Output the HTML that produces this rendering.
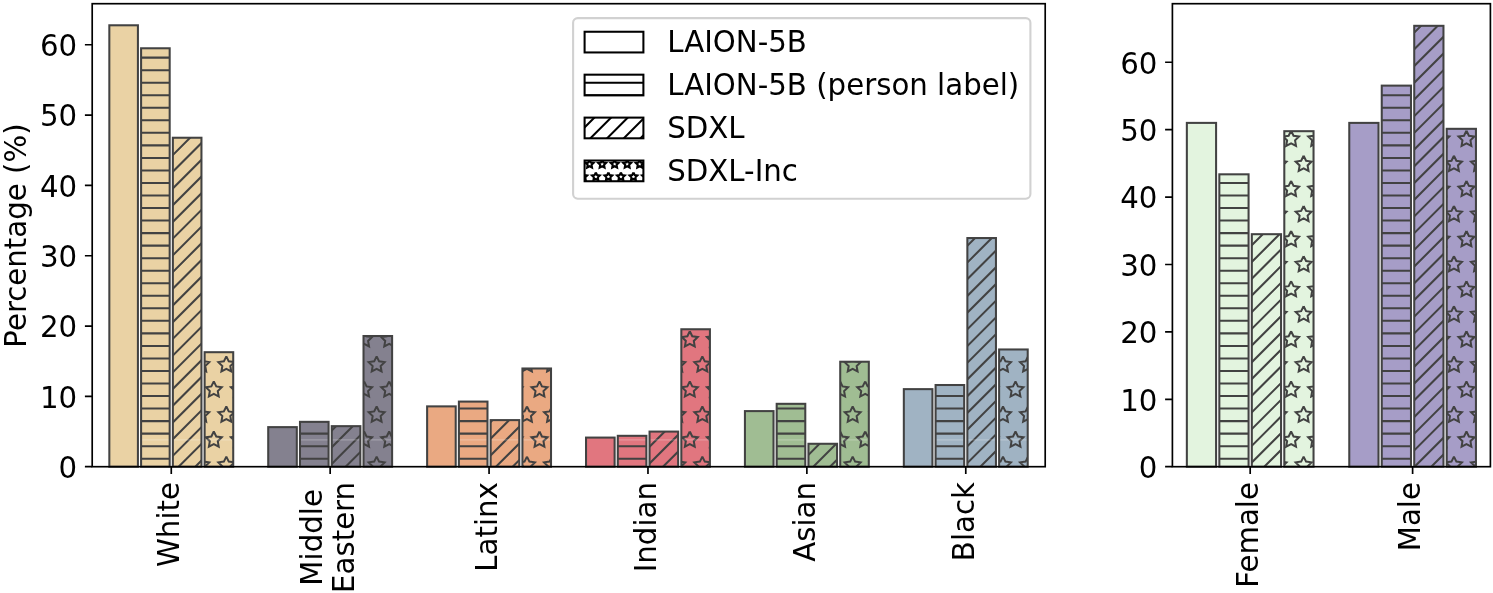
<!DOCTYPE html>
<html lang="en"><head><meta charset="utf-8"><title>Chart</title>
<style>html,body{margin:0;padding:0;background:#fff}svg{display:block}</style></head>
<body>
<svg width="1493" height="593" viewBox="0 0 1493 593" font-family="'DejaVu Sans', 'Liberation Sans', sans-serif" font-size="29.24px" fill="#000">
<rect width="1493" height="593" fill="#fff"/>
<defs><clipPath id="c1"><rect x="141.09" y="48.28" width="28.59" height="418.42"/></clipPath><clipPath id="c2"><rect x="172.86" y="137.74" width="28.59" height="328.96"/></clipPath><clipPath id="c3"><rect x="204.63" y="352.20" width="28.59" height="114.50"/></clipPath><clipPath id="c4"><rect x="299.99" y="421.85" width="28.59" height="44.85"/></clipPath><clipPath id="c5"><rect x="331.76" y="426.15" width="28.59" height="40.55"/></clipPath><clipPath id="c6"><rect x="363.52" y="336.02" width="28.59" height="130.68"/></clipPath><clipPath id="c7"><rect x="458.89" y="401.59" width="28.59" height="65.11"/></clipPath><clipPath id="c8"><rect x="490.66" y="420.11" width="28.59" height="46.59"/></clipPath><clipPath id="c9"><rect x="522.43" y="368.49" width="28.59" height="98.21"/></clipPath><clipPath id="c10"><rect x="617.79" y="435.82" width="28.59" height="30.88"/></clipPath><clipPath id="c11"><rect x="649.56" y="431.59" width="28.59" height="35.11"/></clipPath><clipPath id="c12"><rect x="681.33" y="329.26" width="28.59" height="137.44"/></clipPath><clipPath id="c13"><rect x="776.69" y="403.82" width="28.59" height="62.88"/></clipPath><clipPath id="c14"><rect x="808.46" y="443.78" width="28.59" height="22.92"/></clipPath><clipPath id="c15"><rect x="840.23" y="361.73" width="28.59" height="104.97"/></clipPath><clipPath id="c16"><rect x="935.59" y="385.02" width="28.59" height="81.68"/></clipPath><clipPath id="c17"><rect x="967.36" y="238.05" width="28.59" height="228.65"/></clipPath><clipPath id="c18"><rect x="999.12" y="349.47" width="28.59" height="117.23"/></clipPath><clipPath id="c19"><rect x="1219.34" y="174.32" width="29.23" height="292.38"/></clipPath><clipPath id="c20"><rect x="1251.82" y="234.19" width="29.23" height="232.51"/></clipPath><clipPath id="c21"><rect x="1284.30" y="131.19" width="29.23" height="335.51"/></clipPath><clipPath id="c22"><rect x="1381.75" y="85.62" width="29.23" height="381.08"/></clipPath><clipPath id="c23"><rect x="1414.23" y="25.82" width="29.23" height="440.88"/></clipPath><clipPath id="c24"><rect x="1446.71" y="128.82" width="29.23" height="337.88"/></clipPath><clipPath id="c25"><rect x="584.60" y="74.68" width="58.80" height="20.70"/></clipPath><clipPath id="c26"><rect x="584.60" y="117.61" width="58.80" height="20.70"/></clipPath><clipPath id="c27"><rect x="584.60" y="160.54" width="58.80" height="20.70"/></clipPath></defs>
<rect x="109.33" y="25.29" width="28.59" height="441.41" fill="#EAD2A4"/>
<rect x="109.33" y="25.29" width="28.59" height="441.41" fill="none" stroke="#424242" stroke-width="2.05"/>
<rect x="141.09" y="48.28" width="28.59" height="418.42" fill="#EAD2A4"/>
<g clip-path="url(#c1)" stroke="#424242" stroke-width="2.05" fill="none" stroke-miterlimit="10"><path d="M139.09,57.63H171.68M139.09,70.17H171.68M139.09,82.70H171.68M139.09,95.23H171.68M139.09,107.77H171.68M139.09,120.30H171.68M139.09,132.83H171.68M139.09,145.37H171.68M139.09,157.90H171.68M139.09,170.43H171.68M139.09,182.97H171.68M139.09,195.50H171.68M139.09,208.03H171.68M139.09,220.57H171.68M139.09,233.10H171.68M139.09,245.63H171.68M139.09,258.17H171.68M139.09,270.70H171.68M139.09,283.23H171.68M139.09,295.77H171.68M139.09,308.30H171.68M139.09,320.83H171.68M139.09,333.37H171.68M139.09,345.90H171.68M139.09,358.43H171.68M139.09,370.97H171.68M139.09,383.50H171.68M139.09,396.03H171.68M139.09,408.57H171.68M139.09,421.10H171.68M139.09,433.63H171.68M139.09,446.17H171.68M139.09,458.70H171.68"/></g>
<rect x="141.09" y="439.30" width="28.59" height="1.2" fill="#fff" opacity="0.25"/>
<rect x="141.09" y="48.28" width="28.59" height="418.42" fill="none" stroke="#424242" stroke-width="2.05"/>
<rect x="172.86" y="137.74" width="28.59" height="328.96" fill="#EAD2A4"/>
<g clip-path="url(#c2)" stroke="#424242" stroke-width="2.05" fill="none" stroke-miterlimit="10"><path d="M169.86,141.28L204.45,106.67M169.86,157.99L204.45,123.38M169.86,174.70L204.45,140.09M169.86,191.41L204.45,156.81M169.86,208.12L204.45,173.52M169.86,224.84L204.45,190.23M169.86,241.55L204.45,206.94M169.86,258.26L204.45,223.65M169.86,274.97L204.45,240.36M169.86,291.68L204.45,257.07M169.86,308.39L204.45,273.78M169.86,325.10L204.45,290.49M169.86,341.81L204.45,307.21M169.86,358.52L204.45,323.92M169.86,375.24L204.45,340.63M169.86,391.95L204.45,357.34M169.86,408.66L204.45,374.05M169.86,425.37L204.45,390.76M169.86,442.08L204.45,407.47M169.86,458.79L204.45,424.18M169.86,475.50L204.45,440.89M169.86,492.21L204.45,457.61"/></g>
<rect x="172.86" y="439.30" width="28.59" height="1.2" fill="#fff" opacity="0.25"/>
<rect x="172.86" y="137.74" width="28.59" height="328.96" fill="none" stroke="#424242" stroke-width="2.05"/>
<rect x="204.63" y="352.20" width="28.59" height="114.50" fill="#EAD2A4"/>
<g clip-path="url(#c3)" stroke="#424242" stroke-width="2.05" fill="none" stroke-miterlimit="10"><path fill="#EAD2A4" stroke-width="2.0" stroke-linejoin="miter" stroke-miterlimit="10" d="M176.22,306.21 L173.76,311.19 L168.27,311.98 L172.25,315.86 L171.31,321.33 L176.22,318.74 L181.13,321.33 L180.19,315.86 L184.17,311.98 L178.68,311.19 L176.22,306.21M201.27,306.21 L198.82,311.19 L193.33,311.98 L197.30,315.86 L196.36,321.33 L201.27,318.74 L206.18,321.33 L205.25,315.86 L209.22,311.98 L203.73,311.19 L201.27,306.21M226.33,306.21 L223.87,311.19 L218.38,311.98 L222.35,315.86 L221.42,321.33 L226.33,318.74 L231.24,321.33 L230.30,315.86 L234.27,311.98 L228.78,311.19 L226.33,306.21M251.38,306.21 L248.92,311.19 L243.43,311.98 L247.41,315.86 L246.47,321.33 L251.38,318.74 L256.29,321.33 L255.35,315.86 L259.33,311.98 L253.84,311.19 L251.38,306.21M163.69,331.28 L161.24,336.25 L155.75,337.05 L159.72,340.92 L158.78,346.39 L163.69,343.81 L168.60,346.39 L167.67,340.92 L171.64,337.05 L166.15,336.25 L163.69,331.28M188.75,331.28 L186.29,336.25 L180.80,337.05 L184.77,340.92 L183.84,346.39 L188.75,343.81 L193.66,346.39 L192.72,340.92 L196.69,337.05 L191.20,336.25 L188.75,331.28M213.80,331.28 L211.34,336.25 L205.85,337.05 L209.83,340.92 L208.89,346.39 L213.80,343.81 L218.71,346.39 L217.77,340.92 L221.75,337.05 L216.26,336.25 L213.80,331.28M238.85,331.28 L236.40,336.25 L230.91,337.05 L234.88,340.92 L233.94,346.39 L238.85,343.81 L243.76,346.39 L242.83,340.92 L246.80,337.05 L241.31,336.25 L238.85,331.28M176.22,356.34 L173.76,361.32 L168.27,362.12 L172.25,365.99 L171.31,371.46 L176.22,368.88 L181.13,371.46 L180.19,365.99 L184.17,362.12 L178.68,361.32 L176.22,356.34M201.27,356.34 L198.82,361.32 L193.33,362.12 L197.30,365.99 L196.36,371.46 L201.27,368.88 L206.18,371.46 L205.25,365.99 L209.22,362.12 L203.73,361.32 L201.27,356.34M226.33,356.34 L223.87,361.32 L218.38,362.12 L222.35,365.99 L221.42,371.46 L226.33,368.88 L231.24,371.46 L230.30,365.99 L234.27,362.12 L228.78,361.32 L226.33,356.34M251.38,356.34 L248.92,361.32 L243.43,362.12 L247.41,365.99 L246.47,371.46 L251.38,368.88 L256.29,371.46 L255.35,365.99 L259.33,362.12 L253.84,361.32 L251.38,356.34M163.69,381.41 L161.24,386.39 L155.75,387.18 L159.72,391.06 L158.78,396.53 L163.69,393.94 L168.60,396.53 L167.67,391.06 L171.64,387.18 L166.15,386.39 L163.69,381.41M188.75,381.41 L186.29,386.39 L180.80,387.18 L184.77,391.06 L183.84,396.53 L188.75,393.94 L193.66,396.53 L192.72,391.06 L196.69,387.18 L191.20,386.39 L188.75,381.41M213.80,381.41 L211.34,386.39 L205.85,387.18 L209.83,391.06 L208.89,396.53 L213.80,393.94 L218.71,396.53 L217.77,391.06 L221.75,387.18 L216.26,386.39 L213.80,381.41M238.85,381.41 L236.40,386.39 L230.91,387.18 L234.88,391.06 L233.94,396.53 L238.85,393.94 L243.76,396.53 L242.83,391.06 L246.80,387.18 L241.31,386.39 L238.85,381.41M176.22,406.48 L173.76,411.45 L168.27,412.25 L172.25,416.12 L171.31,421.59 L176.22,419.01 L181.13,421.59 L180.19,416.12 L184.17,412.25 L178.68,411.45 L176.22,406.48M201.27,406.48 L198.82,411.45 L193.33,412.25 L197.30,416.12 L196.36,421.59 L201.27,419.01 L206.18,421.59 L205.25,416.12 L209.22,412.25 L203.73,411.45 L201.27,406.48M226.33,406.48 L223.87,411.45 L218.38,412.25 L222.35,416.12 L221.42,421.59 L226.33,419.01 L231.24,421.59 L230.30,416.12 L234.27,412.25 L228.78,411.45 L226.33,406.48M251.38,406.48 L248.92,411.45 L243.43,412.25 L247.41,416.12 L246.47,421.59 L251.38,419.01 L256.29,421.59 L255.35,416.12 L259.33,412.25 L253.84,411.45 L251.38,406.48M163.69,431.54 L161.24,436.52 L155.75,437.32 L159.72,441.19 L158.78,446.66 L163.69,444.08 L168.60,446.66 L167.67,441.19 L171.64,437.32 L166.15,436.52 L163.69,431.54M188.75,431.54 L186.29,436.52 L180.80,437.32 L184.77,441.19 L183.84,446.66 L188.75,444.08 L193.66,446.66 L192.72,441.19 L196.69,437.32 L191.20,436.52 L188.75,431.54M213.80,431.54 L211.34,436.52 L205.85,437.32 L209.83,441.19 L208.89,446.66 L213.80,444.08 L218.71,446.66 L217.77,441.19 L221.75,437.32 L216.26,436.52 L213.80,431.54M238.85,431.54 L236.40,436.52 L230.91,437.32 L234.88,441.19 L233.94,446.66 L238.85,444.08 L243.76,446.66 L242.83,441.19 L246.80,437.32 L241.31,436.52 L238.85,431.54M176.22,456.61 L173.76,461.59 L168.27,462.38 L172.25,466.26 L171.31,471.73 L176.22,469.14 L181.13,471.73 L180.19,466.26 L184.17,462.38 L178.68,461.59 L176.22,456.61M201.27,456.61 L198.82,461.59 L193.33,462.38 L197.30,466.26 L196.36,471.73 L201.27,469.14 L206.18,471.73 L205.25,466.26 L209.22,462.38 L203.73,461.59 L201.27,456.61M226.33,456.61 L223.87,461.59 L218.38,462.38 L222.35,466.26 L221.42,471.73 L226.33,469.14 L231.24,471.73 L230.30,466.26 L234.27,462.38 L228.78,461.59 L226.33,456.61M251.38,456.61 L248.92,461.59 L243.43,462.38 L247.41,466.26 L246.47,471.73 L251.38,469.14 L256.29,471.73 L255.35,466.26 L259.33,462.38 L253.84,461.59 L251.38,456.61M163.69,481.68 L161.24,486.65 L155.75,487.45 L159.72,491.32 L158.78,496.79 L163.69,494.21 L168.60,496.79 L167.67,491.32 L171.64,487.45 L166.15,486.65 L163.69,481.68M188.75,481.68 L186.29,486.65 L180.80,487.45 L184.77,491.32 L183.84,496.79 L188.75,494.21 L193.66,496.79 L192.72,491.32 L196.69,487.45 L191.20,486.65 L188.75,481.68M213.80,481.68 L211.34,486.65 L205.85,487.45 L209.83,491.32 L208.89,496.79 L213.80,494.21 L218.71,496.79 L217.77,491.32 L221.75,487.45 L216.26,486.65 L213.80,481.68M238.85,481.68 L236.40,486.65 L230.91,487.45 L234.88,491.32 L233.94,496.79 L238.85,494.21 L243.76,496.79 L242.83,491.32 L246.80,487.45 L241.31,486.65 L238.85,481.68"/></g>
<rect x="204.63" y="439.30" width="28.59" height="1.2" fill="#fff" opacity="0.25"/>
<rect x="204.63" y="352.20" width="28.59" height="114.50" fill="none" stroke="#424242" stroke-width="2.05"/>
<rect x="268.22" y="427.13" width="28.59" height="39.57" fill="#84818F"/>
<rect x="268.22" y="427.13" width="28.59" height="39.57" fill="none" stroke="#424242" stroke-width="2.05"/>
<rect x="299.99" y="421.85" width="28.59" height="44.85" fill="#84818F"/>
<g clip-path="url(#c4)" stroke="#424242" stroke-width="2.05" fill="none" stroke-miterlimit="10"><path d="M297.99,421.10H330.58M297.99,433.63H330.58M297.99,446.17H330.58M297.99,458.70H330.58"/></g>
<rect x="299.99" y="439.30" width="28.59" height="1.2" fill="#fff" opacity="0.25"/>
<rect x="299.99" y="421.85" width="28.59" height="44.85" fill="none" stroke="#424242" stroke-width="2.05"/>
<rect x="331.76" y="426.15" width="28.59" height="40.55" fill="#84818F"/>
<g clip-path="url(#c5)" stroke="#424242" stroke-width="2.05" fill="none" stroke-miterlimit="10"><path d="M328.76,433.50L363.35,398.89M328.76,450.21L363.35,415.60M328.76,466.92L363.35,432.31M328.76,483.63L363.35,449.02M328.76,500.34L363.35,465.73"/></g>
<rect x="331.76" y="439.30" width="28.59" height="1.2" fill="#fff" opacity="0.25"/>
<rect x="331.76" y="426.15" width="28.59" height="40.55" fill="none" stroke="#424242" stroke-width="2.05"/>
<rect x="363.52" y="336.02" width="28.59" height="130.68" fill="#84818F"/>
<g clip-path="url(#c6)" stroke="#424242" stroke-width="2.05" fill="none" stroke-miterlimit="10"><path fill="#84818F" stroke-width="2.0" stroke-linejoin="miter" stroke-miterlimit="10" d="M314.01,281.14 L311.56,286.12 L306.07,286.92 L310.04,290.79 L309.10,296.26 L314.01,293.68 L318.92,296.26 L317.99,290.79 L321.96,286.92 L316.47,286.12 L314.01,281.14M339.07,281.14 L336.61,286.12 L331.12,286.92 L335.09,290.79 L334.16,296.26 L339.07,293.68 L343.98,296.26 L343.04,290.79 L347.01,286.92 L341.52,286.12 L339.07,281.14M364.12,281.14 L361.66,286.12 L356.17,286.92 L360.15,290.79 L359.21,296.26 L364.12,293.68 L369.03,296.26 L368.09,290.79 L372.07,286.92 L366.58,286.12 L364.12,281.14M389.17,281.14 L386.72,286.12 L381.23,286.92 L385.20,290.79 L384.26,296.26 L389.17,293.68 L394.08,296.26 L393.15,290.79 L397.12,286.92 L391.63,286.12 L389.17,281.14M414.23,281.14 L411.77,286.12 L406.28,286.92 L410.25,290.79 L409.32,296.26 L414.23,293.68 L419.14,296.26 L418.20,290.79 L422.17,286.92 L416.68,286.12 L414.23,281.14M326.54,306.21 L324.08,311.19 L318.59,311.98 L322.57,315.86 L321.63,321.33 L326.54,318.74 L331.45,321.33 L330.51,315.86 L334.49,311.98 L329.00,311.19 L326.54,306.21M351.59,306.21 L349.14,311.19 L343.65,311.98 L347.62,315.86 L346.68,321.33 L351.59,318.74 L356.50,321.33 L355.57,315.86 L359.54,311.98 L354.05,311.19 L351.59,306.21M376.65,306.21 L374.19,311.19 L368.70,311.98 L372.67,315.86 L371.74,321.33 L376.65,318.74 L381.56,321.33 L380.62,315.86 L384.59,311.98 L379.10,311.19 L376.65,306.21M401.70,306.21 L399.24,311.19 L393.75,311.98 L397.73,315.86 L396.79,321.33 L401.70,318.74 L406.61,321.33 L405.67,315.86 L409.65,311.98 L404.16,311.19 L401.70,306.21M314.01,331.28 L311.56,336.25 L306.07,337.05 L310.04,340.92 L309.10,346.39 L314.01,343.81 L318.92,346.39 L317.99,340.92 L321.96,337.05 L316.47,336.25 L314.01,331.28M339.07,331.28 L336.61,336.25 L331.12,337.05 L335.09,340.92 L334.16,346.39 L339.07,343.81 L343.98,346.39 L343.04,340.92 L347.01,337.05 L341.52,336.25 L339.07,331.28M364.12,331.28 L361.66,336.25 L356.17,337.05 L360.15,340.92 L359.21,346.39 L364.12,343.81 L369.03,346.39 L368.09,340.92 L372.07,337.05 L366.58,336.25 L364.12,331.28M389.17,331.28 L386.72,336.25 L381.23,337.05 L385.20,340.92 L384.26,346.39 L389.17,343.81 L394.08,346.39 L393.15,340.92 L397.12,337.05 L391.63,336.25 L389.17,331.28M414.23,331.28 L411.77,336.25 L406.28,337.05 L410.25,340.92 L409.32,346.39 L414.23,343.81 L419.14,346.39 L418.20,340.92 L422.17,337.05 L416.68,336.25 L414.23,331.28M326.54,356.34 L324.08,361.32 L318.59,362.12 L322.57,365.99 L321.63,371.46 L326.54,368.88 L331.45,371.46 L330.51,365.99 L334.49,362.12 L329.00,361.32 L326.54,356.34M351.59,356.34 L349.14,361.32 L343.65,362.12 L347.62,365.99 L346.68,371.46 L351.59,368.88 L356.50,371.46 L355.57,365.99 L359.54,362.12 L354.05,361.32 L351.59,356.34M376.65,356.34 L374.19,361.32 L368.70,362.12 L372.67,365.99 L371.74,371.46 L376.65,368.88 L381.56,371.46 L380.62,365.99 L384.59,362.12 L379.10,361.32 L376.65,356.34M401.70,356.34 L399.24,361.32 L393.75,362.12 L397.73,365.99 L396.79,371.46 L401.70,368.88 L406.61,371.46 L405.67,365.99 L409.65,362.12 L404.16,361.32 L401.70,356.34M314.01,381.41 L311.56,386.39 L306.07,387.18 L310.04,391.06 L309.10,396.53 L314.01,393.94 L318.92,396.53 L317.99,391.06 L321.96,387.18 L316.47,386.39 L314.01,381.41M339.07,381.41 L336.61,386.39 L331.12,387.18 L335.09,391.06 L334.16,396.53 L339.07,393.94 L343.98,396.53 L343.04,391.06 L347.01,387.18 L341.52,386.39 L339.07,381.41M364.12,381.41 L361.66,386.39 L356.17,387.18 L360.15,391.06 L359.21,396.53 L364.12,393.94 L369.03,396.53 L368.09,391.06 L372.07,387.18 L366.58,386.39 L364.12,381.41M389.17,381.41 L386.72,386.39 L381.23,387.18 L385.20,391.06 L384.26,396.53 L389.17,393.94 L394.08,396.53 L393.15,391.06 L397.12,387.18 L391.63,386.39 L389.17,381.41M414.23,381.41 L411.77,386.39 L406.28,387.18 L410.25,391.06 L409.32,396.53 L414.23,393.94 L419.14,396.53 L418.20,391.06 L422.17,387.18 L416.68,386.39 L414.23,381.41M326.54,406.48 L324.08,411.45 L318.59,412.25 L322.57,416.12 L321.63,421.59 L326.54,419.01 L331.45,421.59 L330.51,416.12 L334.49,412.25 L329.00,411.45 L326.54,406.48M351.59,406.48 L349.14,411.45 L343.65,412.25 L347.62,416.12 L346.68,421.59 L351.59,419.01 L356.50,421.59 L355.57,416.12 L359.54,412.25 L354.05,411.45 L351.59,406.48M376.65,406.48 L374.19,411.45 L368.70,412.25 L372.67,416.12 L371.74,421.59 L376.65,419.01 L381.56,421.59 L380.62,416.12 L384.59,412.25 L379.10,411.45 L376.65,406.48M401.70,406.48 L399.24,411.45 L393.75,412.25 L397.73,416.12 L396.79,421.59 L401.70,419.01 L406.61,421.59 L405.67,416.12 L409.65,412.25 L404.16,411.45 L401.70,406.48M314.01,431.54 L311.56,436.52 L306.07,437.32 L310.04,441.19 L309.10,446.66 L314.01,444.08 L318.92,446.66 L317.99,441.19 L321.96,437.32 L316.47,436.52 L314.01,431.54M339.07,431.54 L336.61,436.52 L331.12,437.32 L335.09,441.19 L334.16,446.66 L339.07,444.08 L343.98,446.66 L343.04,441.19 L347.01,437.32 L341.52,436.52 L339.07,431.54M364.12,431.54 L361.66,436.52 L356.17,437.32 L360.15,441.19 L359.21,446.66 L364.12,444.08 L369.03,446.66 L368.09,441.19 L372.07,437.32 L366.58,436.52 L364.12,431.54M389.17,431.54 L386.72,436.52 L381.23,437.32 L385.20,441.19 L384.26,446.66 L389.17,444.08 L394.08,446.66 L393.15,441.19 L397.12,437.32 L391.63,436.52 L389.17,431.54M414.23,431.54 L411.77,436.52 L406.28,437.32 L410.25,441.19 L409.32,446.66 L414.23,444.08 L419.14,446.66 L418.20,441.19 L422.17,437.32 L416.68,436.52 L414.23,431.54M326.54,456.61 L324.08,461.59 L318.59,462.38 L322.57,466.26 L321.63,471.73 L326.54,469.14 L331.45,471.73 L330.51,466.26 L334.49,462.38 L329.00,461.59 L326.54,456.61M351.59,456.61 L349.14,461.59 L343.65,462.38 L347.62,466.26 L346.68,471.73 L351.59,469.14 L356.50,471.73 L355.57,466.26 L359.54,462.38 L354.05,461.59 L351.59,456.61M376.65,456.61 L374.19,461.59 L368.70,462.38 L372.67,466.26 L371.74,471.73 L376.65,469.14 L381.56,471.73 L380.62,466.26 L384.59,462.38 L379.10,461.59 L376.65,456.61M401.70,456.61 L399.24,461.59 L393.75,462.38 L397.73,466.26 L396.79,471.73 L401.70,469.14 L406.61,471.73 L405.67,466.26 L409.65,462.38 L404.16,461.59 L401.70,456.61M314.01,481.68 L311.56,486.65 L306.07,487.45 L310.04,491.32 L309.10,496.79 L314.01,494.21 L318.92,496.79 L317.99,491.32 L321.96,487.45 L316.47,486.65 L314.01,481.68M339.07,481.68 L336.61,486.65 L331.12,487.45 L335.09,491.32 L334.16,496.79 L339.07,494.21 L343.98,496.79 L343.04,491.32 L347.01,487.45 L341.52,486.65 L339.07,481.68M364.12,481.68 L361.66,486.65 L356.17,487.45 L360.15,491.32 L359.21,496.79 L364.12,494.21 L369.03,496.79 L368.09,491.32 L372.07,487.45 L366.58,486.65 L364.12,481.68M389.17,481.68 L386.72,486.65 L381.23,487.45 L385.20,491.32 L384.26,496.79 L389.17,494.21 L394.08,496.79 L393.15,491.32 L397.12,487.45 L391.63,486.65 L389.17,481.68M414.23,481.68 L411.77,486.65 L406.28,487.45 L410.25,491.32 L409.32,496.79 L414.23,494.21 L419.14,496.79 L418.20,491.32 L422.17,487.45 L416.68,486.65 L414.23,481.68"/></g>
<rect x="363.52" y="439.30" width="28.59" height="1.2" fill="#fff" opacity="0.25"/>
<rect x="363.52" y="336.02" width="28.59" height="130.68" fill="none" stroke="#424242" stroke-width="2.05"/>
<rect x="427.12" y="406.38" width="28.59" height="60.32" fill="#EAA982"/>
<rect x="427.12" y="406.38" width="28.59" height="60.32" fill="none" stroke="#424242" stroke-width="2.05"/>
<rect x="458.89" y="401.59" width="28.59" height="65.11" fill="#EAA982"/>
<g clip-path="url(#c7)" stroke="#424242" stroke-width="2.05" fill="none" stroke-miterlimit="10"><path d="M456.89,408.57H489.48M456.89,421.10H489.48M456.89,433.63H489.48M456.89,446.17H489.48M456.89,458.70H489.48"/></g>
<rect x="458.89" y="439.30" width="28.59" height="1.2" fill="#fff" opacity="0.25"/>
<rect x="458.89" y="401.59" width="28.59" height="65.11" fill="none" stroke="#424242" stroke-width="2.05"/>
<rect x="490.66" y="420.11" width="28.59" height="46.59" fill="#EAA982"/>
<g clip-path="url(#c8)" stroke="#424242" stroke-width="2.05" fill="none" stroke-miterlimit="10"><path d="M487.66,424.91L522.25,390.30M487.66,441.62L522.25,407.01M487.66,458.33L522.25,423.72M487.66,475.04L522.25,440.44M487.66,491.76L522.25,457.15"/></g>
<rect x="490.66" y="439.30" width="28.59" height="1.2" fill="#fff" opacity="0.25"/>
<rect x="490.66" y="420.11" width="28.59" height="46.59" fill="none" stroke="#424242" stroke-width="2.05"/>
<rect x="522.43" y="368.49" width="28.59" height="98.21" fill="#EAA982"/>
<g clip-path="url(#c9)" stroke="#424242" stroke-width="2.05" fill="none" stroke-miterlimit="10"><path fill="#EAA982" stroke-width="2.0" stroke-linejoin="miter" stroke-miterlimit="10" d="M489.39,331.28 L486.93,336.25 L481.44,337.05 L485.41,340.92 L484.48,346.39 L489.39,343.81 L494.30,346.39 L493.36,340.92 L497.33,337.05 L491.84,336.25 L489.39,331.28M514.44,331.28 L511.98,336.25 L506.49,337.05 L510.47,340.92 L509.53,346.39 L514.44,343.81 L519.35,346.39 L518.41,340.92 L522.39,337.05 L516.90,336.25 L514.44,331.28M539.49,331.28 L537.04,336.25 L531.55,337.05 L535.52,340.92 L534.58,346.39 L539.49,343.81 L544.40,346.39 L543.47,340.92 L547.44,337.05 L541.95,336.25 L539.49,331.28M564.55,331.28 L562.09,336.25 L556.60,337.05 L560.57,340.92 L559.64,346.39 L564.55,343.81 L569.46,346.39 L568.52,340.92 L572.49,337.05 L567.00,336.25 L564.55,331.28M476.86,356.34 L474.40,361.32 L468.91,362.12 L472.89,365.99 L471.95,371.46 L476.86,368.88 L481.77,371.46 L480.83,365.99 L484.81,362.12 L479.32,361.32 L476.86,356.34M501.91,356.34 L499.46,361.32 L493.97,362.12 L497.94,365.99 L497.00,371.46 L501.91,368.88 L506.82,371.46 L505.89,365.99 L509.86,362.12 L504.37,361.32 L501.91,356.34M526.97,356.34 L524.51,361.32 L519.02,362.12 L522.99,365.99 L522.06,371.46 L526.97,368.88 L531.88,371.46 L530.94,365.99 L534.91,362.12 L529.42,361.32 L526.97,356.34M552.02,356.34 L549.56,361.32 L544.07,362.12 L548.05,365.99 L547.11,371.46 L552.02,368.88 L556.93,371.46 L555.99,365.99 L559.97,362.12 L554.48,361.32 L552.02,356.34M489.39,381.41 L486.93,386.39 L481.44,387.18 L485.41,391.06 L484.48,396.53 L489.39,393.94 L494.30,396.53 L493.36,391.06 L497.33,387.18 L491.84,386.39 L489.39,381.41M514.44,381.41 L511.98,386.39 L506.49,387.18 L510.47,391.06 L509.53,396.53 L514.44,393.94 L519.35,396.53 L518.41,391.06 L522.39,387.18 L516.90,386.39 L514.44,381.41M539.49,381.41 L537.04,386.39 L531.55,387.18 L535.52,391.06 L534.58,396.53 L539.49,393.94 L544.40,396.53 L543.47,391.06 L547.44,387.18 L541.95,386.39 L539.49,381.41M564.55,381.41 L562.09,386.39 L556.60,387.18 L560.57,391.06 L559.64,396.53 L564.55,393.94 L569.46,396.53 L568.52,391.06 L572.49,387.18 L567.00,386.39 L564.55,381.41M476.86,406.48 L474.40,411.45 L468.91,412.25 L472.89,416.12 L471.95,421.59 L476.86,419.01 L481.77,421.59 L480.83,416.12 L484.81,412.25 L479.32,411.45 L476.86,406.48M501.91,406.48 L499.46,411.45 L493.97,412.25 L497.94,416.12 L497.00,421.59 L501.91,419.01 L506.82,421.59 L505.89,416.12 L509.86,412.25 L504.37,411.45 L501.91,406.48M526.97,406.48 L524.51,411.45 L519.02,412.25 L522.99,416.12 L522.06,421.59 L526.97,419.01 L531.88,421.59 L530.94,416.12 L534.91,412.25 L529.42,411.45 L526.97,406.48M552.02,406.48 L549.56,411.45 L544.07,412.25 L548.05,416.12 L547.11,421.59 L552.02,419.01 L556.93,421.59 L555.99,416.12 L559.97,412.25 L554.48,411.45 L552.02,406.48M489.39,431.54 L486.93,436.52 L481.44,437.32 L485.41,441.19 L484.48,446.66 L489.39,444.08 L494.30,446.66 L493.36,441.19 L497.33,437.32 L491.84,436.52 L489.39,431.54M514.44,431.54 L511.98,436.52 L506.49,437.32 L510.47,441.19 L509.53,446.66 L514.44,444.08 L519.35,446.66 L518.41,441.19 L522.39,437.32 L516.90,436.52 L514.44,431.54M539.49,431.54 L537.04,436.52 L531.55,437.32 L535.52,441.19 L534.58,446.66 L539.49,444.08 L544.40,446.66 L543.47,441.19 L547.44,437.32 L541.95,436.52 L539.49,431.54M564.55,431.54 L562.09,436.52 L556.60,437.32 L560.57,441.19 L559.64,446.66 L564.55,444.08 L569.46,446.66 L568.52,441.19 L572.49,437.32 L567.00,436.52 L564.55,431.54M476.86,456.61 L474.40,461.59 L468.91,462.38 L472.89,466.26 L471.95,471.73 L476.86,469.14 L481.77,471.73 L480.83,466.26 L484.81,462.38 L479.32,461.59 L476.86,456.61M501.91,456.61 L499.46,461.59 L493.97,462.38 L497.94,466.26 L497.00,471.73 L501.91,469.14 L506.82,471.73 L505.89,466.26 L509.86,462.38 L504.37,461.59 L501.91,456.61M526.97,456.61 L524.51,461.59 L519.02,462.38 L522.99,466.26 L522.06,471.73 L526.97,469.14 L531.88,471.73 L530.94,466.26 L534.91,462.38 L529.42,461.59 L526.97,456.61M552.02,456.61 L549.56,461.59 L544.07,462.38 L548.05,466.26 L547.11,471.73 L552.02,469.14 L556.93,471.73 L555.99,466.26 L559.97,462.38 L554.48,461.59 L552.02,456.61M489.39,481.68 L486.93,486.65 L481.44,487.45 L485.41,491.32 L484.48,496.79 L489.39,494.21 L494.30,496.79 L493.36,491.32 L497.33,487.45 L491.84,486.65 L489.39,481.68M514.44,481.68 L511.98,486.65 L506.49,487.45 L510.47,491.32 L509.53,496.79 L514.44,494.21 L519.35,496.79 L518.41,491.32 L522.39,487.45 L516.90,486.65 L514.44,481.68M539.49,481.68 L537.04,486.65 L531.55,487.45 L535.52,491.32 L534.58,496.79 L539.49,494.21 L544.40,496.79 L543.47,491.32 L547.44,487.45 L541.95,486.65 L539.49,481.68M564.55,481.68 L562.09,486.65 L556.60,487.45 L560.57,491.32 L559.64,496.79 L564.55,494.21 L569.46,496.79 L568.52,491.32 L572.49,487.45 L567.00,486.65 L564.55,481.68"/></g>
<rect x="522.43" y="439.30" width="28.59" height="1.2" fill="#fff" opacity="0.25"/>
<rect x="522.43" y="368.49" width="28.59" height="98.21" fill="none" stroke="#424242" stroke-width="2.05"/>
<rect x="586.03" y="437.58" width="28.59" height="29.12" fill="#E1767F"/>
<rect x="586.03" y="437.58" width="28.59" height="29.12" fill="none" stroke="#424242" stroke-width="2.05"/>
<rect x="617.79" y="435.82" width="28.59" height="30.88" fill="#E1767F"/>
<g clip-path="url(#c10)" stroke="#424242" stroke-width="2.05" fill="none" stroke-miterlimit="10"><path d="M615.79,446.17H648.38M615.79,458.70H648.38"/></g>
<rect x="617.79" y="439.30" width="28.59" height="1.2" fill="#fff" opacity="0.25"/>
<rect x="617.79" y="435.82" width="28.59" height="30.88" fill="none" stroke="#424242" stroke-width="2.05"/>
<rect x="649.56" y="431.59" width="28.59" height="35.11" fill="#E1767F"/>
<g clip-path="url(#c11)" stroke="#424242" stroke-width="2.05" fill="none" stroke-miterlimit="10"><path d="M646.56,433.04L681.15,398.43M646.56,449.75L681.15,415.14M646.56,466.46L681.15,431.85M646.56,483.17L681.15,448.56M646.56,499.88L681.15,465.27"/></g>
<rect x="649.56" y="439.30" width="28.59" height="1.2" fill="#fff" opacity="0.25"/>
<rect x="649.56" y="431.59" width="28.59" height="35.11" fill="none" stroke="#424242" stroke-width="2.05"/>
<rect x="681.33" y="329.26" width="28.59" height="137.44" fill="#E1767F"/>
<g clip-path="url(#c12)" stroke="#424242" stroke-width="2.05" fill="none" stroke-miterlimit="10"><path fill="#E1767F" stroke-width="2.0" stroke-linejoin="miter" stroke-miterlimit="10" d="M639.71,281.14 L637.25,286.12 L631.76,286.92 L635.73,290.79 L634.80,296.26 L639.71,293.68 L644.62,296.26 L643.68,290.79 L647.65,286.92 L642.16,286.12 L639.71,281.14M664.76,281.14 L662.30,286.12 L656.81,286.92 L660.79,290.79 L659.85,296.26 L664.76,293.68 L669.67,296.26 L668.73,290.79 L672.71,286.92 L667.22,286.12 L664.76,281.14M689.81,281.14 L687.36,286.12 L681.87,286.92 L685.84,290.79 L684.90,296.26 L689.81,293.68 L694.72,296.26 L693.79,290.79 L697.76,286.92 L692.27,286.12 L689.81,281.14M714.87,281.14 L712.41,286.12 L706.92,286.92 L710.89,290.79 L709.96,296.26 L714.87,293.68 L719.78,296.26 L718.84,290.79 L722.81,286.92 L717.32,286.12 L714.87,281.14M652.23,306.21 L649.78,311.19 L644.29,311.98 L648.26,315.86 L647.32,321.33 L652.23,318.74 L657.14,321.33 L656.21,315.86 L660.18,311.98 L654.69,311.19 L652.23,306.21M677.29,306.21 L674.83,311.19 L669.34,311.98 L673.31,315.86 L672.38,321.33 L677.29,318.74 L682.20,321.33 L681.26,315.86 L685.23,311.98 L679.74,311.19 L677.29,306.21M702.34,306.21 L699.88,311.19 L694.39,311.98 L698.37,315.86 L697.43,321.33 L702.34,318.74 L707.25,321.33 L706.31,315.86 L710.29,311.98 L704.80,311.19 L702.34,306.21M727.39,306.21 L724.94,311.19 L719.45,311.98 L723.42,315.86 L722.48,321.33 L727.39,318.74 L732.30,321.33 L731.37,315.86 L735.34,311.98 L729.85,311.19 L727.39,306.21M639.71,331.28 L637.25,336.25 L631.76,337.05 L635.73,340.92 L634.80,346.39 L639.71,343.81 L644.62,346.39 L643.68,340.92 L647.65,337.05 L642.16,336.25 L639.71,331.28M664.76,331.28 L662.30,336.25 L656.81,337.05 L660.79,340.92 L659.85,346.39 L664.76,343.81 L669.67,346.39 L668.73,340.92 L672.71,337.05 L667.22,336.25 L664.76,331.28M689.81,331.28 L687.36,336.25 L681.87,337.05 L685.84,340.92 L684.90,346.39 L689.81,343.81 L694.72,346.39 L693.79,340.92 L697.76,337.05 L692.27,336.25 L689.81,331.28M714.87,331.28 L712.41,336.25 L706.92,337.05 L710.89,340.92 L709.96,346.39 L714.87,343.81 L719.78,346.39 L718.84,340.92 L722.81,337.05 L717.32,336.25 L714.87,331.28M652.23,356.34 L649.78,361.32 L644.29,362.12 L648.26,365.99 L647.32,371.46 L652.23,368.88 L657.14,371.46 L656.21,365.99 L660.18,362.12 L654.69,361.32 L652.23,356.34M677.29,356.34 L674.83,361.32 L669.34,362.12 L673.31,365.99 L672.38,371.46 L677.29,368.88 L682.20,371.46 L681.26,365.99 L685.23,362.12 L679.74,361.32 L677.29,356.34M702.34,356.34 L699.88,361.32 L694.39,362.12 L698.37,365.99 L697.43,371.46 L702.34,368.88 L707.25,371.46 L706.31,365.99 L710.29,362.12 L704.80,361.32 L702.34,356.34M727.39,356.34 L724.94,361.32 L719.45,362.12 L723.42,365.99 L722.48,371.46 L727.39,368.88 L732.30,371.46 L731.37,365.99 L735.34,362.12 L729.85,361.32 L727.39,356.34M639.71,381.41 L637.25,386.39 L631.76,387.18 L635.73,391.06 L634.80,396.53 L639.71,393.94 L644.62,396.53 L643.68,391.06 L647.65,387.18 L642.16,386.39 L639.71,381.41M664.76,381.41 L662.30,386.39 L656.81,387.18 L660.79,391.06 L659.85,396.53 L664.76,393.94 L669.67,396.53 L668.73,391.06 L672.71,387.18 L667.22,386.39 L664.76,381.41M689.81,381.41 L687.36,386.39 L681.87,387.18 L685.84,391.06 L684.90,396.53 L689.81,393.94 L694.72,396.53 L693.79,391.06 L697.76,387.18 L692.27,386.39 L689.81,381.41M714.87,381.41 L712.41,386.39 L706.92,387.18 L710.89,391.06 L709.96,396.53 L714.87,393.94 L719.78,396.53 L718.84,391.06 L722.81,387.18 L717.32,386.39 L714.87,381.41M652.23,406.48 L649.78,411.45 L644.29,412.25 L648.26,416.12 L647.32,421.59 L652.23,419.01 L657.14,421.59 L656.21,416.12 L660.18,412.25 L654.69,411.45 L652.23,406.48M677.29,406.48 L674.83,411.45 L669.34,412.25 L673.31,416.12 L672.38,421.59 L677.29,419.01 L682.20,421.59 L681.26,416.12 L685.23,412.25 L679.74,411.45 L677.29,406.48M702.34,406.48 L699.88,411.45 L694.39,412.25 L698.37,416.12 L697.43,421.59 L702.34,419.01 L707.25,421.59 L706.31,416.12 L710.29,412.25 L704.80,411.45 L702.34,406.48M727.39,406.48 L724.94,411.45 L719.45,412.25 L723.42,416.12 L722.48,421.59 L727.39,419.01 L732.30,421.59 L731.37,416.12 L735.34,412.25 L729.85,411.45 L727.39,406.48M639.71,431.54 L637.25,436.52 L631.76,437.32 L635.73,441.19 L634.80,446.66 L639.71,444.08 L644.62,446.66 L643.68,441.19 L647.65,437.32 L642.16,436.52 L639.71,431.54M664.76,431.54 L662.30,436.52 L656.81,437.32 L660.79,441.19 L659.85,446.66 L664.76,444.08 L669.67,446.66 L668.73,441.19 L672.71,437.32 L667.22,436.52 L664.76,431.54M689.81,431.54 L687.36,436.52 L681.87,437.32 L685.84,441.19 L684.90,446.66 L689.81,444.08 L694.72,446.66 L693.79,441.19 L697.76,437.32 L692.27,436.52 L689.81,431.54M714.87,431.54 L712.41,436.52 L706.92,437.32 L710.89,441.19 L709.96,446.66 L714.87,444.08 L719.78,446.66 L718.84,441.19 L722.81,437.32 L717.32,436.52 L714.87,431.54M652.23,456.61 L649.78,461.59 L644.29,462.38 L648.26,466.26 L647.32,471.73 L652.23,469.14 L657.14,471.73 L656.21,466.26 L660.18,462.38 L654.69,461.59 L652.23,456.61M677.29,456.61 L674.83,461.59 L669.34,462.38 L673.31,466.26 L672.38,471.73 L677.29,469.14 L682.20,471.73 L681.26,466.26 L685.23,462.38 L679.74,461.59 L677.29,456.61M702.34,456.61 L699.88,461.59 L694.39,462.38 L698.37,466.26 L697.43,471.73 L702.34,469.14 L707.25,471.73 L706.31,466.26 L710.29,462.38 L704.80,461.59 L702.34,456.61M727.39,456.61 L724.94,461.59 L719.45,462.38 L723.42,466.26 L722.48,471.73 L727.39,469.14 L732.30,471.73 L731.37,466.26 L735.34,462.38 L729.85,461.59 L727.39,456.61M639.71,481.68 L637.25,486.65 L631.76,487.45 L635.73,491.32 L634.80,496.79 L639.71,494.21 L644.62,496.79 L643.68,491.32 L647.65,487.45 L642.16,486.65 L639.71,481.68M664.76,481.68 L662.30,486.65 L656.81,487.45 L660.79,491.32 L659.85,496.79 L664.76,494.21 L669.67,496.79 L668.73,491.32 L672.71,487.45 L667.22,486.65 L664.76,481.68M689.81,481.68 L687.36,486.65 L681.87,487.45 L685.84,491.32 L684.90,496.79 L689.81,494.21 L694.72,496.79 L693.79,491.32 L697.76,487.45 L692.27,486.65 L689.81,481.68M714.87,481.68 L712.41,486.65 L706.92,487.45 L710.89,491.32 L709.96,496.79 L714.87,494.21 L719.78,496.79 L718.84,491.32 L722.81,487.45 L717.32,486.65 L714.87,481.68"/></g>
<rect x="681.33" y="439.30" width="28.59" height="1.2" fill="#fff" opacity="0.25"/>
<rect x="681.33" y="329.26" width="28.59" height="137.44" fill="none" stroke="#424242" stroke-width="2.05"/>
<rect x="744.93" y="411.10" width="28.59" height="55.60" fill="#A0BD93"/>
<rect x="744.93" y="411.10" width="28.59" height="55.60" fill="none" stroke="#424242" stroke-width="2.05"/>
<rect x="776.69" y="403.82" width="28.59" height="62.88" fill="#A0BD93"/>
<g clip-path="url(#c13)" stroke="#424242" stroke-width="2.05" fill="none" stroke-miterlimit="10"><path d="M774.69,408.57H807.28M774.69,421.10H807.28M774.69,433.63H807.28M774.69,446.17H807.28M774.69,458.70H807.28"/></g>
<rect x="776.69" y="439.30" width="28.59" height="1.2" fill="#fff" opacity="0.25"/>
<rect x="776.69" y="403.82" width="28.59" height="62.88" fill="none" stroke="#424242" stroke-width="2.05"/>
<rect x="808.46" y="443.78" width="28.59" height="22.92" fill="#A0BD93"/>
<g clip-path="url(#c14)" stroke="#424242" stroke-width="2.05" fill="none" stroke-miterlimit="10"><path d="M805.46,441.16L840.05,406.56M805.46,457.88L840.05,423.27M805.46,474.59L840.05,439.98M805.46,491.30L840.05,456.69"/></g>
<rect x="808.46" y="443.78" width="28.59" height="22.92" fill="none" stroke="#424242" stroke-width="2.05"/>
<rect x="840.23" y="361.73" width="28.59" height="104.97" fill="#A0BD93"/>
<g clip-path="url(#c15)" stroke="#424242" stroke-width="2.05" fill="none" stroke-miterlimit="10"><path fill="#A0BD93" stroke-width="2.0" stroke-linejoin="miter" stroke-miterlimit="10" d="M802.55,306.21 L800.10,311.19 L794.61,311.98 L798.58,315.86 L797.64,321.33 L802.55,318.74 L807.46,321.33 L806.53,315.86 L810.50,311.98 L805.01,311.19 L802.55,306.21M827.61,306.21 L825.15,311.19 L819.66,311.98 L823.63,315.86 L822.70,321.33 L827.61,318.74 L832.52,321.33 L831.58,315.86 L835.55,311.98 L830.06,311.19 L827.61,306.21M852.66,306.21 L850.20,311.19 L844.71,311.98 L848.69,315.86 L847.75,321.33 L852.66,318.74 L857.57,321.33 L856.63,315.86 L860.61,311.98 L855.12,311.19 L852.66,306.21M877.71,306.21 L875.26,311.19 L869.77,311.98 L873.74,315.86 L872.80,321.33 L877.71,318.74 L882.62,321.33 L881.69,315.86 L885.66,311.98 L880.17,311.19 L877.71,306.21M815.08,331.28 L812.62,336.25 L807.13,337.05 L811.11,340.92 L810.17,346.39 L815.08,343.81 L819.99,346.39 L819.05,340.92 L823.03,337.05 L817.54,336.25 L815.08,331.28M840.13,331.28 L837.68,336.25 L832.19,337.05 L836.16,340.92 L835.22,346.39 L840.13,343.81 L845.04,346.39 L844.11,340.92 L848.08,337.05 L842.59,336.25 L840.13,331.28M865.19,331.28 L862.73,336.25 L857.24,337.05 L861.21,340.92 L860.28,346.39 L865.19,343.81 L870.10,346.39 L869.16,340.92 L873.13,337.05 L867.64,336.25 L865.19,331.28M890.24,331.28 L887.78,336.25 L882.29,337.05 L886.27,340.92 L885.33,346.39 L890.24,343.81 L895.15,346.39 L894.21,340.92 L898.19,337.05 L892.70,336.25 L890.24,331.28M802.55,356.34 L800.10,361.32 L794.61,362.12 L798.58,365.99 L797.64,371.46 L802.55,368.88 L807.46,371.46 L806.53,365.99 L810.50,362.12 L805.01,361.32 L802.55,356.34M827.61,356.34 L825.15,361.32 L819.66,362.12 L823.63,365.99 L822.70,371.46 L827.61,368.88 L832.52,371.46 L831.58,365.99 L835.55,362.12 L830.06,361.32 L827.61,356.34M852.66,356.34 L850.20,361.32 L844.71,362.12 L848.69,365.99 L847.75,371.46 L852.66,368.88 L857.57,371.46 L856.63,365.99 L860.61,362.12 L855.12,361.32 L852.66,356.34M877.71,356.34 L875.26,361.32 L869.77,362.12 L873.74,365.99 L872.80,371.46 L877.71,368.88 L882.62,371.46 L881.69,365.99 L885.66,362.12 L880.17,361.32 L877.71,356.34M815.08,381.41 L812.62,386.39 L807.13,387.18 L811.11,391.06 L810.17,396.53 L815.08,393.94 L819.99,396.53 L819.05,391.06 L823.03,387.18 L817.54,386.39 L815.08,381.41M840.13,381.41 L837.68,386.39 L832.19,387.18 L836.16,391.06 L835.22,396.53 L840.13,393.94 L845.04,396.53 L844.11,391.06 L848.08,387.18 L842.59,386.39 L840.13,381.41M865.19,381.41 L862.73,386.39 L857.24,387.18 L861.21,391.06 L860.28,396.53 L865.19,393.94 L870.10,396.53 L869.16,391.06 L873.13,387.18 L867.64,386.39 L865.19,381.41M890.24,381.41 L887.78,386.39 L882.29,387.18 L886.27,391.06 L885.33,396.53 L890.24,393.94 L895.15,396.53 L894.21,391.06 L898.19,387.18 L892.70,386.39 L890.24,381.41M802.55,406.48 L800.10,411.45 L794.61,412.25 L798.58,416.12 L797.64,421.59 L802.55,419.01 L807.46,421.59 L806.53,416.12 L810.50,412.25 L805.01,411.45 L802.55,406.48M827.61,406.48 L825.15,411.45 L819.66,412.25 L823.63,416.12 L822.70,421.59 L827.61,419.01 L832.52,421.59 L831.58,416.12 L835.55,412.25 L830.06,411.45 L827.61,406.48M852.66,406.48 L850.20,411.45 L844.71,412.25 L848.69,416.12 L847.75,421.59 L852.66,419.01 L857.57,421.59 L856.63,416.12 L860.61,412.25 L855.12,411.45 L852.66,406.48M877.71,406.48 L875.26,411.45 L869.77,412.25 L873.74,416.12 L872.80,421.59 L877.71,419.01 L882.62,421.59 L881.69,416.12 L885.66,412.25 L880.17,411.45 L877.71,406.48M815.08,431.54 L812.62,436.52 L807.13,437.32 L811.11,441.19 L810.17,446.66 L815.08,444.08 L819.99,446.66 L819.05,441.19 L823.03,437.32 L817.54,436.52 L815.08,431.54M840.13,431.54 L837.68,436.52 L832.19,437.32 L836.16,441.19 L835.22,446.66 L840.13,444.08 L845.04,446.66 L844.11,441.19 L848.08,437.32 L842.59,436.52 L840.13,431.54M865.19,431.54 L862.73,436.52 L857.24,437.32 L861.21,441.19 L860.28,446.66 L865.19,444.08 L870.10,446.66 L869.16,441.19 L873.13,437.32 L867.64,436.52 L865.19,431.54M890.24,431.54 L887.78,436.52 L882.29,437.32 L886.27,441.19 L885.33,446.66 L890.24,444.08 L895.15,446.66 L894.21,441.19 L898.19,437.32 L892.70,436.52 L890.24,431.54M802.55,456.61 L800.10,461.59 L794.61,462.38 L798.58,466.26 L797.64,471.73 L802.55,469.14 L807.46,471.73 L806.53,466.26 L810.50,462.38 L805.01,461.59 L802.55,456.61M827.61,456.61 L825.15,461.59 L819.66,462.38 L823.63,466.26 L822.70,471.73 L827.61,469.14 L832.52,471.73 L831.58,466.26 L835.55,462.38 L830.06,461.59 L827.61,456.61M852.66,456.61 L850.20,461.59 L844.71,462.38 L848.69,466.26 L847.75,471.73 L852.66,469.14 L857.57,471.73 L856.63,466.26 L860.61,462.38 L855.12,461.59 L852.66,456.61M877.71,456.61 L875.26,461.59 L869.77,462.38 L873.74,466.26 L872.80,471.73 L877.71,469.14 L882.62,471.73 L881.69,466.26 L885.66,462.38 L880.17,461.59 L877.71,456.61M815.08,481.68 L812.62,486.65 L807.13,487.45 L811.11,491.32 L810.17,496.79 L815.08,494.21 L819.99,496.79 L819.05,491.32 L823.03,487.45 L817.54,486.65 L815.08,481.68M840.13,481.68 L837.68,486.65 L832.19,487.45 L836.16,491.32 L835.22,496.79 L840.13,494.21 L845.04,496.79 L844.11,491.32 L848.08,487.45 L842.59,486.65 L840.13,481.68M865.19,481.68 L862.73,486.65 L857.24,487.45 L861.21,491.32 L860.28,496.79 L865.19,494.21 L870.10,496.79 L869.16,491.32 L873.13,487.45 L867.64,486.65 L865.19,481.68M890.24,481.68 L887.78,486.65 L882.29,487.45 L886.27,491.32 L885.33,496.79 L890.24,494.21 L895.15,496.79 L894.21,491.32 L898.19,487.45 L892.70,486.65 L890.24,481.68"/></g>
<rect x="840.23" y="439.30" width="28.59" height="1.2" fill="#fff" opacity="0.25"/>
<rect x="840.23" y="361.73" width="28.59" height="104.97" fill="none" stroke="#424242" stroke-width="2.05"/>
<rect x="903.83" y="389.14" width="28.59" height="77.56" fill="#A0B3C3"/>
<rect x="903.83" y="389.14" width="28.59" height="77.56" fill="none" stroke="#424242" stroke-width="2.05"/>
<rect x="935.59" y="385.02" width="28.59" height="81.68" fill="#A0B3C3"/>
<g clip-path="url(#c16)" stroke="#424242" stroke-width="2.05" fill="none" stroke-miterlimit="10"><path d="M933.59,383.50H966.18M933.59,396.03H966.18M933.59,408.57H966.18M933.59,421.10H966.18M933.59,433.63H966.18M933.59,446.17H966.18M933.59,458.70H966.18"/></g>
<rect x="935.59" y="439.30" width="28.59" height="1.2" fill="#fff" opacity="0.25"/>
<rect x="935.59" y="385.02" width="28.59" height="81.68" fill="none" stroke="#424242" stroke-width="2.05"/>
<rect x="967.36" y="238.05" width="28.59" height="228.65" fill="#A0B3C3"/>
<g clip-path="url(#c17)" stroke="#424242" stroke-width="2.05" fill="none" stroke-miterlimit="10"><path d="M964.36,248.76L998.95,214.15M964.36,265.47L998.95,230.86M964.36,282.18L998.95,247.57M964.36,298.89L998.95,264.28M964.36,315.60L998.95,280.99M964.36,332.31L998.95,297.70M964.36,349.02L998.95,314.42M964.36,365.74L998.95,331.13M964.36,382.45L998.95,347.84M964.36,399.16L998.95,364.55M964.36,415.87L998.95,381.26M964.36,432.58L998.95,397.97M964.36,449.29L998.95,414.68M964.36,466.00L998.95,431.39M964.36,482.71L998.95,448.10M964.36,499.42L998.95,464.82"/></g>
<rect x="967.36" y="439.30" width="28.59" height="1.2" fill="#fff" opacity="0.25"/>
<rect x="967.36" y="238.05" width="28.59" height="228.65" fill="none" stroke="#424242" stroke-width="2.05"/>
<rect x="999.12" y="349.47" width="28.59" height="117.23" fill="#A0B3C3"/>
<g clip-path="url(#c18)" stroke="#424242" stroke-width="2.05" fill="none" stroke-miterlimit="10"><path fill="#A0B3C3" stroke-width="2.0" stroke-linejoin="miter" stroke-miterlimit="10" d="M952.87,306.21 L950.42,311.19 L944.93,311.98 L948.90,315.86 L947.96,321.33 L952.87,318.74 L957.78,321.33 L956.85,315.86 L960.82,311.98 L955.33,311.19 L952.87,306.21M977.93,306.21 L975.47,311.19 L969.98,311.98 L973.95,315.86 L973.02,321.33 L977.93,318.74 L982.84,321.33 L981.90,315.86 L985.87,311.98 L980.38,311.19 L977.93,306.21M1002.98,306.21 L1000.52,311.19 L995.03,311.98 L999.01,315.86 L998.07,321.33 L1002.98,318.74 L1007.89,321.33 L1006.95,315.86 L1010.93,311.98 L1005.44,311.19 L1002.98,306.21M1028.03,306.21 L1025.58,311.19 L1020.09,311.98 L1024.06,315.86 L1023.12,321.33 L1028.03,318.74 L1032.94,321.33 L1032.01,315.86 L1035.98,311.98 L1030.49,311.19 L1028.03,306.21M965.40,331.28 L962.94,336.25 L957.45,337.05 L961.43,340.92 L960.49,346.39 L965.40,343.81 L970.31,346.39 L969.37,340.92 L973.35,337.05 L967.86,336.25 L965.40,331.28M990.45,331.28 L988.00,336.25 L982.51,337.05 L986.48,340.92 L985.54,346.39 L990.45,343.81 L995.36,346.39 L994.43,340.92 L998.40,337.05 L992.91,336.25 L990.45,331.28M1015.51,331.28 L1013.05,336.25 L1007.56,337.05 L1011.53,340.92 L1010.60,346.39 L1015.51,343.81 L1020.42,346.39 L1019.48,340.92 L1023.45,337.05 L1017.96,336.25 L1015.51,331.28M1040.56,331.28 L1038.10,336.25 L1032.61,337.05 L1036.59,340.92 L1035.65,346.39 L1040.56,343.81 L1045.47,346.39 L1044.53,340.92 L1048.51,337.05 L1043.02,336.25 L1040.56,331.28M952.87,356.34 L950.42,361.32 L944.93,362.12 L948.90,365.99 L947.96,371.46 L952.87,368.88 L957.78,371.46 L956.85,365.99 L960.82,362.12 L955.33,361.32 L952.87,356.34M977.93,356.34 L975.47,361.32 L969.98,362.12 L973.95,365.99 L973.02,371.46 L977.93,368.88 L982.84,371.46 L981.90,365.99 L985.87,362.12 L980.38,361.32 L977.93,356.34M1002.98,356.34 L1000.52,361.32 L995.03,362.12 L999.01,365.99 L998.07,371.46 L1002.98,368.88 L1007.89,371.46 L1006.95,365.99 L1010.93,362.12 L1005.44,361.32 L1002.98,356.34M1028.03,356.34 L1025.58,361.32 L1020.09,362.12 L1024.06,365.99 L1023.12,371.46 L1028.03,368.88 L1032.94,371.46 L1032.01,365.99 L1035.98,362.12 L1030.49,361.32 L1028.03,356.34M965.40,381.41 L962.94,386.39 L957.45,387.18 L961.43,391.06 L960.49,396.53 L965.40,393.94 L970.31,396.53 L969.37,391.06 L973.35,387.18 L967.86,386.39 L965.40,381.41M990.45,381.41 L988.00,386.39 L982.51,387.18 L986.48,391.06 L985.54,396.53 L990.45,393.94 L995.36,396.53 L994.43,391.06 L998.40,387.18 L992.91,386.39 L990.45,381.41M1015.51,381.41 L1013.05,386.39 L1007.56,387.18 L1011.53,391.06 L1010.60,396.53 L1015.51,393.94 L1020.42,396.53 L1019.48,391.06 L1023.45,387.18 L1017.96,386.39 L1015.51,381.41M1040.56,381.41 L1038.10,386.39 L1032.61,387.18 L1036.59,391.06 L1035.65,396.53 L1040.56,393.94 L1045.47,396.53 L1044.53,391.06 L1048.51,387.18 L1043.02,386.39 L1040.56,381.41M952.87,406.48 L950.42,411.45 L944.93,412.25 L948.90,416.12 L947.96,421.59 L952.87,419.01 L957.78,421.59 L956.85,416.12 L960.82,412.25 L955.33,411.45 L952.87,406.48M977.93,406.48 L975.47,411.45 L969.98,412.25 L973.95,416.12 L973.02,421.59 L977.93,419.01 L982.84,421.59 L981.90,416.12 L985.87,412.25 L980.38,411.45 L977.93,406.48M1002.98,406.48 L1000.52,411.45 L995.03,412.25 L999.01,416.12 L998.07,421.59 L1002.98,419.01 L1007.89,421.59 L1006.95,416.12 L1010.93,412.25 L1005.44,411.45 L1002.98,406.48M1028.03,406.48 L1025.58,411.45 L1020.09,412.25 L1024.06,416.12 L1023.12,421.59 L1028.03,419.01 L1032.94,421.59 L1032.01,416.12 L1035.98,412.25 L1030.49,411.45 L1028.03,406.48M965.40,431.54 L962.94,436.52 L957.45,437.32 L961.43,441.19 L960.49,446.66 L965.40,444.08 L970.31,446.66 L969.37,441.19 L973.35,437.32 L967.86,436.52 L965.40,431.54M990.45,431.54 L988.00,436.52 L982.51,437.32 L986.48,441.19 L985.54,446.66 L990.45,444.08 L995.36,446.66 L994.43,441.19 L998.40,437.32 L992.91,436.52 L990.45,431.54M1015.51,431.54 L1013.05,436.52 L1007.56,437.32 L1011.53,441.19 L1010.60,446.66 L1015.51,444.08 L1020.42,446.66 L1019.48,441.19 L1023.45,437.32 L1017.96,436.52 L1015.51,431.54M1040.56,431.54 L1038.10,436.52 L1032.61,437.32 L1036.59,441.19 L1035.65,446.66 L1040.56,444.08 L1045.47,446.66 L1044.53,441.19 L1048.51,437.32 L1043.02,436.52 L1040.56,431.54M952.87,456.61 L950.42,461.59 L944.93,462.38 L948.90,466.26 L947.96,471.73 L952.87,469.14 L957.78,471.73 L956.85,466.26 L960.82,462.38 L955.33,461.59 L952.87,456.61M977.93,456.61 L975.47,461.59 L969.98,462.38 L973.95,466.26 L973.02,471.73 L977.93,469.14 L982.84,471.73 L981.90,466.26 L985.87,462.38 L980.38,461.59 L977.93,456.61M1002.98,456.61 L1000.52,461.59 L995.03,462.38 L999.01,466.26 L998.07,471.73 L1002.98,469.14 L1007.89,471.73 L1006.95,466.26 L1010.93,462.38 L1005.44,461.59 L1002.98,456.61M1028.03,456.61 L1025.58,461.59 L1020.09,462.38 L1024.06,466.26 L1023.12,471.73 L1028.03,469.14 L1032.94,471.73 L1032.01,466.26 L1035.98,462.38 L1030.49,461.59 L1028.03,456.61M965.40,481.68 L962.94,486.65 L957.45,487.45 L961.43,491.32 L960.49,496.79 L965.40,494.21 L970.31,496.79 L969.37,491.32 L973.35,487.45 L967.86,486.65 L965.40,481.68M990.45,481.68 L988.00,486.65 L982.51,487.45 L986.48,491.32 L985.54,496.79 L990.45,494.21 L995.36,496.79 L994.43,491.32 L998.40,487.45 L992.91,486.65 L990.45,481.68M1015.51,481.68 L1013.05,486.65 L1007.56,487.45 L1011.53,491.32 L1010.60,496.79 L1015.51,494.21 L1020.42,496.79 L1019.48,491.32 L1023.45,487.45 L1017.96,486.65 L1015.51,481.68M1040.56,481.68 L1038.10,486.65 L1032.61,487.45 L1036.59,491.32 L1035.65,496.79 L1040.56,494.21 L1045.47,496.79 L1044.53,491.32 L1048.51,487.45 L1043.02,486.65 L1040.56,481.68"/></g>
<rect x="999.12" y="439.30" width="28.59" height="1.2" fill="#fff" opacity="0.25"/>
<rect x="999.12" y="349.47" width="28.59" height="117.23" fill="none" stroke="#424242" stroke-width="2.05"/>
<rect x="1186.85" y="122.89" width="29.23" height="343.81" fill="#E3F4DF"/>
<rect x="1186.85" y="122.89" width="29.23" height="343.81" fill="none" stroke="#424242" stroke-width="2.05"/>
<rect x="1219.34" y="174.32" width="29.23" height="292.38" fill="#E3F4DF"/>
<g clip-path="url(#c19)" stroke="#424242" stroke-width="2.05" fill="none" stroke-miterlimit="10"><path d="M1217.34,182.97H1250.57M1217.34,195.50H1250.57M1217.34,208.03H1250.57M1217.34,220.57H1250.57M1217.34,233.10H1250.57M1217.34,245.63H1250.57M1217.34,258.17H1250.57M1217.34,270.70H1250.57M1217.34,283.23H1250.57M1217.34,295.77H1250.57M1217.34,308.30H1250.57M1217.34,320.83H1250.57M1217.34,333.37H1250.57M1217.34,345.90H1250.57M1217.34,358.43H1250.57M1217.34,370.97H1250.57M1217.34,383.50H1250.57M1217.34,396.03H1250.57M1217.34,408.57H1250.57M1217.34,421.10H1250.57M1217.34,433.63H1250.57M1217.34,446.17H1250.57M1217.34,458.70H1250.57"/></g>
<rect x="1219.34" y="174.32" width="29.23" height="292.38" fill="none" stroke="#424242" stroke-width="2.05"/>
<rect x="1251.82" y="234.19" width="29.23" height="232.51" fill="#E3F4DF"/>
<g clip-path="url(#c20)" stroke="#424242" stroke-width="2.05" fill="none" stroke-miterlimit="10"><path d="M1248.82,231.52L1284.05,196.27M1248.82,248.23L1284.05,212.98M1248.82,264.95L1284.05,229.69M1248.82,281.66L1284.05,246.40M1248.82,298.37L1284.05,263.12M1248.82,315.08L1284.05,279.83M1248.82,331.79L1284.05,296.54M1248.82,348.50L1284.05,313.25M1248.82,365.21L1284.05,329.96M1248.82,381.92L1284.05,346.67M1248.82,398.63L1284.05,363.38M1248.82,415.35L1284.05,380.09M1248.82,432.06L1284.05,396.80M1248.82,448.77L1284.05,413.52M1248.82,465.48L1284.05,430.23M1248.82,482.19L1284.05,446.94M1248.82,498.90L1284.05,463.65"/></g>
<rect x="1251.82" y="234.19" width="29.23" height="232.51" fill="none" stroke="#424242" stroke-width="2.05"/>
<rect x="1284.30" y="131.19" width="29.23" height="335.51" fill="#E3F4DF"/>
<g clip-path="url(#c21)" stroke="#424242" stroke-width="2.05" fill="none" stroke-miterlimit="10"><path fill="#E3F4DF" stroke-width="2.0" stroke-linejoin="miter" stroke-miterlimit="10" d="M1240.99,80.61 L1238.53,85.59 L1233.04,86.38 L1237.01,90.26 L1236.08,95.73 L1240.99,93.14 L1245.90,95.73 L1244.96,90.26 L1248.93,86.38 L1243.44,85.59 L1240.99,80.61M1266.04,80.61 L1263.58,85.59 L1258.09,86.38 L1262.07,90.26 L1261.13,95.73 L1266.04,93.14 L1270.95,95.73 L1270.01,90.26 L1273.99,86.38 L1268.50,85.59 L1266.04,80.61M1291.09,80.61 L1288.64,85.59 L1283.15,86.38 L1287.12,90.26 L1286.18,95.73 L1291.09,93.14 L1296.00,95.73 L1295.07,90.26 L1299.04,86.38 L1293.55,85.59 L1291.09,80.61M1316.15,80.61 L1313.69,85.59 L1308.20,86.38 L1312.17,90.26 L1311.24,95.73 L1316.15,93.14 L1321.06,95.73 L1320.12,90.26 L1324.09,86.38 L1318.60,85.59 L1316.15,80.61M1253.51,105.68 L1251.06,110.65 L1245.57,111.45 L1249.54,115.32 L1248.60,120.79 L1253.51,118.21 L1258.42,120.79 L1257.49,115.32 L1261.46,111.45 L1255.97,110.65 L1253.51,105.68M1278.57,105.68 L1276.11,110.65 L1270.62,111.45 L1274.59,115.32 L1273.66,120.79 L1278.57,118.21 L1283.48,120.79 L1282.54,115.32 L1286.51,111.45 L1281.02,110.65 L1278.57,105.68M1303.62,105.68 L1301.16,110.65 L1295.67,111.45 L1299.65,115.32 L1298.71,120.79 L1303.62,118.21 L1308.53,120.79 L1307.59,115.32 L1311.57,111.45 L1306.08,110.65 L1303.62,105.68M1328.67,105.68 L1326.22,110.65 L1320.73,111.45 L1324.70,115.32 L1323.76,120.79 L1328.67,118.21 L1333.58,120.79 L1332.65,115.32 L1336.62,111.45 L1331.13,110.65 L1328.67,105.68M1240.99,130.74 L1238.53,135.72 L1233.04,136.52 L1237.01,140.39 L1236.08,145.86 L1240.99,143.28 L1245.90,145.86 L1244.96,140.39 L1248.93,136.52 L1243.44,135.72 L1240.99,130.74M1266.04,130.74 L1263.58,135.72 L1258.09,136.52 L1262.07,140.39 L1261.13,145.86 L1266.04,143.28 L1270.95,145.86 L1270.01,140.39 L1273.99,136.52 L1268.50,135.72 L1266.04,130.74M1291.09,130.74 L1288.64,135.72 L1283.15,136.52 L1287.12,140.39 L1286.18,145.86 L1291.09,143.28 L1296.00,145.86 L1295.07,140.39 L1299.04,136.52 L1293.55,135.72 L1291.09,130.74M1316.15,130.74 L1313.69,135.72 L1308.20,136.52 L1312.17,140.39 L1311.24,145.86 L1316.15,143.28 L1321.06,145.86 L1320.12,140.39 L1324.09,136.52 L1318.60,135.72 L1316.15,130.74M1253.51,155.81 L1251.06,160.79 L1245.57,161.58 L1249.54,165.46 L1248.60,170.93 L1253.51,168.34 L1258.42,170.93 L1257.49,165.46 L1261.46,161.58 L1255.97,160.79 L1253.51,155.81M1278.57,155.81 L1276.11,160.79 L1270.62,161.58 L1274.59,165.46 L1273.66,170.93 L1278.57,168.34 L1283.48,170.93 L1282.54,165.46 L1286.51,161.58 L1281.02,160.79 L1278.57,155.81M1303.62,155.81 L1301.16,160.79 L1295.67,161.58 L1299.65,165.46 L1298.71,170.93 L1303.62,168.34 L1308.53,170.93 L1307.59,165.46 L1311.57,161.58 L1306.08,160.79 L1303.62,155.81M1328.67,155.81 L1326.22,160.79 L1320.73,161.58 L1324.70,165.46 L1323.76,170.93 L1328.67,168.34 L1333.58,170.93 L1332.65,165.46 L1336.62,161.58 L1331.13,160.79 L1328.67,155.81M1240.99,180.88 L1238.53,185.85 L1233.04,186.65 L1237.01,190.52 L1236.08,195.99 L1240.99,193.41 L1245.90,195.99 L1244.96,190.52 L1248.93,186.65 L1243.44,185.85 L1240.99,180.88M1266.04,180.88 L1263.58,185.85 L1258.09,186.65 L1262.07,190.52 L1261.13,195.99 L1266.04,193.41 L1270.95,195.99 L1270.01,190.52 L1273.99,186.65 L1268.50,185.85 L1266.04,180.88M1291.09,180.88 L1288.64,185.85 L1283.15,186.65 L1287.12,190.52 L1286.18,195.99 L1291.09,193.41 L1296.00,195.99 L1295.07,190.52 L1299.04,186.65 L1293.55,185.85 L1291.09,180.88M1316.15,180.88 L1313.69,185.85 L1308.20,186.65 L1312.17,190.52 L1311.24,195.99 L1316.15,193.41 L1321.06,195.99 L1320.12,190.52 L1324.09,186.65 L1318.60,185.85 L1316.15,180.88M1253.51,205.94 L1251.06,210.92 L1245.57,211.72 L1249.54,215.59 L1248.60,221.06 L1253.51,218.48 L1258.42,221.06 L1257.49,215.59 L1261.46,211.72 L1255.97,210.92 L1253.51,205.94M1278.57,205.94 L1276.11,210.92 L1270.62,211.72 L1274.59,215.59 L1273.66,221.06 L1278.57,218.48 L1283.48,221.06 L1282.54,215.59 L1286.51,211.72 L1281.02,210.92 L1278.57,205.94M1303.62,205.94 L1301.16,210.92 L1295.67,211.72 L1299.65,215.59 L1298.71,221.06 L1303.62,218.48 L1308.53,221.06 L1307.59,215.59 L1311.57,211.72 L1306.08,210.92 L1303.62,205.94M1328.67,205.94 L1326.22,210.92 L1320.73,211.72 L1324.70,215.59 L1323.76,221.06 L1328.67,218.48 L1333.58,221.06 L1332.65,215.59 L1336.62,211.72 L1331.13,210.92 L1328.67,205.94M1240.99,231.01 L1238.53,235.99 L1233.04,236.78 L1237.01,240.66 L1236.08,246.13 L1240.99,243.54 L1245.90,246.13 L1244.96,240.66 L1248.93,236.78 L1243.44,235.99 L1240.99,231.01M1266.04,231.01 L1263.58,235.99 L1258.09,236.78 L1262.07,240.66 L1261.13,246.13 L1266.04,243.54 L1270.95,246.13 L1270.01,240.66 L1273.99,236.78 L1268.50,235.99 L1266.04,231.01M1291.09,231.01 L1288.64,235.99 L1283.15,236.78 L1287.12,240.66 L1286.18,246.13 L1291.09,243.54 L1296.00,246.13 L1295.07,240.66 L1299.04,236.78 L1293.55,235.99 L1291.09,231.01M1316.15,231.01 L1313.69,235.99 L1308.20,236.78 L1312.17,240.66 L1311.24,246.13 L1316.15,243.54 L1321.06,246.13 L1320.12,240.66 L1324.09,236.78 L1318.60,235.99 L1316.15,231.01M1253.51,256.08 L1251.06,261.05 L1245.57,261.85 L1249.54,265.72 L1248.60,271.19 L1253.51,268.61 L1258.42,271.19 L1257.49,265.72 L1261.46,261.85 L1255.97,261.05 L1253.51,256.08M1278.57,256.08 L1276.11,261.05 L1270.62,261.85 L1274.59,265.72 L1273.66,271.19 L1278.57,268.61 L1283.48,271.19 L1282.54,265.72 L1286.51,261.85 L1281.02,261.05 L1278.57,256.08M1303.62,256.08 L1301.16,261.05 L1295.67,261.85 L1299.65,265.72 L1298.71,271.19 L1303.62,268.61 L1308.53,271.19 L1307.59,265.72 L1311.57,261.85 L1306.08,261.05 L1303.62,256.08M1328.67,256.08 L1326.22,261.05 L1320.73,261.85 L1324.70,265.72 L1323.76,271.19 L1328.67,268.61 L1333.58,271.19 L1332.65,265.72 L1336.62,261.85 L1331.13,261.05 L1328.67,256.08M1240.99,281.14 L1238.53,286.12 L1233.04,286.92 L1237.01,290.79 L1236.08,296.26 L1240.99,293.68 L1245.90,296.26 L1244.96,290.79 L1248.93,286.92 L1243.44,286.12 L1240.99,281.14M1266.04,281.14 L1263.58,286.12 L1258.09,286.92 L1262.07,290.79 L1261.13,296.26 L1266.04,293.68 L1270.95,296.26 L1270.01,290.79 L1273.99,286.92 L1268.50,286.12 L1266.04,281.14M1291.09,281.14 L1288.64,286.12 L1283.15,286.92 L1287.12,290.79 L1286.18,296.26 L1291.09,293.68 L1296.00,296.26 L1295.07,290.79 L1299.04,286.92 L1293.55,286.12 L1291.09,281.14M1316.15,281.14 L1313.69,286.12 L1308.20,286.92 L1312.17,290.79 L1311.24,296.26 L1316.15,293.68 L1321.06,296.26 L1320.12,290.79 L1324.09,286.92 L1318.60,286.12 L1316.15,281.14M1253.51,306.21 L1251.06,311.19 L1245.57,311.98 L1249.54,315.86 L1248.60,321.33 L1253.51,318.74 L1258.42,321.33 L1257.49,315.86 L1261.46,311.98 L1255.97,311.19 L1253.51,306.21M1278.57,306.21 L1276.11,311.19 L1270.62,311.98 L1274.59,315.86 L1273.66,321.33 L1278.57,318.74 L1283.48,321.33 L1282.54,315.86 L1286.51,311.98 L1281.02,311.19 L1278.57,306.21M1303.62,306.21 L1301.16,311.19 L1295.67,311.98 L1299.65,315.86 L1298.71,321.33 L1303.62,318.74 L1308.53,321.33 L1307.59,315.86 L1311.57,311.98 L1306.08,311.19 L1303.62,306.21M1328.67,306.21 L1326.22,311.19 L1320.73,311.98 L1324.70,315.86 L1323.76,321.33 L1328.67,318.74 L1333.58,321.33 L1332.65,315.86 L1336.62,311.98 L1331.13,311.19 L1328.67,306.21M1240.99,331.28 L1238.53,336.25 L1233.04,337.05 L1237.01,340.92 L1236.08,346.39 L1240.99,343.81 L1245.90,346.39 L1244.96,340.92 L1248.93,337.05 L1243.44,336.25 L1240.99,331.28M1266.04,331.28 L1263.58,336.25 L1258.09,337.05 L1262.07,340.92 L1261.13,346.39 L1266.04,343.81 L1270.95,346.39 L1270.01,340.92 L1273.99,337.05 L1268.50,336.25 L1266.04,331.28M1291.09,331.28 L1288.64,336.25 L1283.15,337.05 L1287.12,340.92 L1286.18,346.39 L1291.09,343.81 L1296.00,346.39 L1295.07,340.92 L1299.04,337.05 L1293.55,336.25 L1291.09,331.28M1316.15,331.28 L1313.69,336.25 L1308.20,337.05 L1312.17,340.92 L1311.24,346.39 L1316.15,343.81 L1321.06,346.39 L1320.12,340.92 L1324.09,337.05 L1318.60,336.25 L1316.15,331.28M1253.51,356.34 L1251.06,361.32 L1245.57,362.12 L1249.54,365.99 L1248.60,371.46 L1253.51,368.88 L1258.42,371.46 L1257.49,365.99 L1261.46,362.12 L1255.97,361.32 L1253.51,356.34M1278.57,356.34 L1276.11,361.32 L1270.62,362.12 L1274.59,365.99 L1273.66,371.46 L1278.57,368.88 L1283.48,371.46 L1282.54,365.99 L1286.51,362.12 L1281.02,361.32 L1278.57,356.34M1303.62,356.34 L1301.16,361.32 L1295.67,362.12 L1299.65,365.99 L1298.71,371.46 L1303.62,368.88 L1308.53,371.46 L1307.59,365.99 L1311.57,362.12 L1306.08,361.32 L1303.62,356.34M1328.67,356.34 L1326.22,361.32 L1320.73,362.12 L1324.70,365.99 L1323.76,371.46 L1328.67,368.88 L1333.58,371.46 L1332.65,365.99 L1336.62,362.12 L1331.13,361.32 L1328.67,356.34M1240.99,381.41 L1238.53,386.39 L1233.04,387.18 L1237.01,391.06 L1236.08,396.53 L1240.99,393.94 L1245.90,396.53 L1244.96,391.06 L1248.93,387.18 L1243.44,386.39 L1240.99,381.41M1266.04,381.41 L1263.58,386.39 L1258.09,387.18 L1262.07,391.06 L1261.13,396.53 L1266.04,393.94 L1270.95,396.53 L1270.01,391.06 L1273.99,387.18 L1268.50,386.39 L1266.04,381.41M1291.09,381.41 L1288.64,386.39 L1283.15,387.18 L1287.12,391.06 L1286.18,396.53 L1291.09,393.94 L1296.00,396.53 L1295.07,391.06 L1299.04,387.18 L1293.55,386.39 L1291.09,381.41M1316.15,381.41 L1313.69,386.39 L1308.20,387.18 L1312.17,391.06 L1311.24,396.53 L1316.15,393.94 L1321.06,396.53 L1320.12,391.06 L1324.09,387.18 L1318.60,386.39 L1316.15,381.41M1253.51,406.48 L1251.06,411.45 L1245.57,412.25 L1249.54,416.12 L1248.60,421.59 L1253.51,419.01 L1258.42,421.59 L1257.49,416.12 L1261.46,412.25 L1255.97,411.45 L1253.51,406.48M1278.57,406.48 L1276.11,411.45 L1270.62,412.25 L1274.59,416.12 L1273.66,421.59 L1278.57,419.01 L1283.48,421.59 L1282.54,416.12 L1286.51,412.25 L1281.02,411.45 L1278.57,406.48M1303.62,406.48 L1301.16,411.45 L1295.67,412.25 L1299.65,416.12 L1298.71,421.59 L1303.62,419.01 L1308.53,421.59 L1307.59,416.12 L1311.57,412.25 L1306.08,411.45 L1303.62,406.48M1328.67,406.48 L1326.22,411.45 L1320.73,412.25 L1324.70,416.12 L1323.76,421.59 L1328.67,419.01 L1333.58,421.59 L1332.65,416.12 L1336.62,412.25 L1331.13,411.45 L1328.67,406.48M1240.99,431.54 L1238.53,436.52 L1233.04,437.32 L1237.01,441.19 L1236.08,446.66 L1240.99,444.08 L1245.90,446.66 L1244.96,441.19 L1248.93,437.32 L1243.44,436.52 L1240.99,431.54M1266.04,431.54 L1263.58,436.52 L1258.09,437.32 L1262.07,441.19 L1261.13,446.66 L1266.04,444.08 L1270.95,446.66 L1270.01,441.19 L1273.99,437.32 L1268.50,436.52 L1266.04,431.54M1291.09,431.54 L1288.64,436.52 L1283.15,437.32 L1287.12,441.19 L1286.18,446.66 L1291.09,444.08 L1296.00,446.66 L1295.07,441.19 L1299.04,437.32 L1293.55,436.52 L1291.09,431.54M1316.15,431.54 L1313.69,436.52 L1308.20,437.32 L1312.17,441.19 L1311.24,446.66 L1316.15,444.08 L1321.06,446.66 L1320.12,441.19 L1324.09,437.32 L1318.60,436.52 L1316.15,431.54M1253.51,456.61 L1251.06,461.59 L1245.57,462.38 L1249.54,466.26 L1248.60,471.73 L1253.51,469.14 L1258.42,471.73 L1257.49,466.26 L1261.46,462.38 L1255.97,461.59 L1253.51,456.61M1278.57,456.61 L1276.11,461.59 L1270.62,462.38 L1274.59,466.26 L1273.66,471.73 L1278.57,469.14 L1283.48,471.73 L1282.54,466.26 L1286.51,462.38 L1281.02,461.59 L1278.57,456.61M1303.62,456.61 L1301.16,461.59 L1295.67,462.38 L1299.65,466.26 L1298.71,471.73 L1303.62,469.14 L1308.53,471.73 L1307.59,466.26 L1311.57,462.38 L1306.08,461.59 L1303.62,456.61M1328.67,456.61 L1326.22,461.59 L1320.73,462.38 L1324.70,466.26 L1323.76,471.73 L1328.67,469.14 L1333.58,471.73 L1332.65,466.26 L1336.62,462.38 L1331.13,461.59 L1328.67,456.61M1240.99,481.68 L1238.53,486.65 L1233.04,487.45 L1237.01,491.32 L1236.08,496.79 L1240.99,494.21 L1245.90,496.79 L1244.96,491.32 L1248.93,487.45 L1243.44,486.65 L1240.99,481.68M1266.04,481.68 L1263.58,486.65 L1258.09,487.45 L1262.07,491.32 L1261.13,496.79 L1266.04,494.21 L1270.95,496.79 L1270.01,491.32 L1273.99,487.45 L1268.50,486.65 L1266.04,481.68M1291.09,481.68 L1288.64,486.65 L1283.15,487.45 L1287.12,491.32 L1286.18,496.79 L1291.09,494.21 L1296.00,496.79 L1295.07,491.32 L1299.04,487.45 L1293.55,486.65 L1291.09,481.68M1316.15,481.68 L1313.69,486.65 L1308.20,487.45 L1312.17,491.32 L1311.24,496.79 L1316.15,494.21 L1321.06,496.79 L1320.12,491.32 L1324.09,487.45 L1318.60,486.65 L1316.15,481.68"/></g>
<rect x="1284.30" y="131.19" width="29.23" height="335.51" fill="none" stroke="#424242" stroke-width="2.05"/>
<rect x="1349.27" y="122.89" width="29.23" height="343.81" fill="#A69DC7"/>
<rect x="1349.27" y="122.89" width="29.23" height="343.81" fill="none" stroke="#424242" stroke-width="2.05"/>
<rect x="1381.75" y="85.62" width="29.23" height="381.08" fill="#A69DC7"/>
<g clip-path="url(#c22)" stroke="#424242" stroke-width="2.05" fill="none" stroke-miterlimit="10"><path d="M1379.75,95.23H1412.98M1379.75,107.77H1412.98M1379.75,120.30H1412.98M1379.75,132.83H1412.98M1379.75,145.37H1412.98M1379.75,157.90H1412.98M1379.75,170.43H1412.98M1379.75,182.97H1412.98M1379.75,195.50H1412.98M1379.75,208.03H1412.98M1379.75,220.57H1412.98M1379.75,233.10H1412.98M1379.75,245.63H1412.98M1379.75,258.17H1412.98M1379.75,270.70H1412.98M1379.75,283.23H1412.98M1379.75,295.77H1412.98M1379.75,308.30H1412.98M1379.75,320.83H1412.98M1379.75,333.37H1412.98M1379.75,345.90H1412.98M1379.75,358.43H1412.98M1379.75,370.97H1412.98M1379.75,383.50H1412.98M1379.75,396.03H1412.98M1379.75,408.57H1412.98M1379.75,421.10H1412.98M1379.75,433.63H1412.98M1379.75,446.17H1412.98M1379.75,458.70H1412.98"/></g>
<rect x="1381.75" y="85.62" width="29.23" height="381.08" fill="none" stroke="#424242" stroke-width="2.05"/>
<rect x="1414.23" y="25.82" width="29.23" height="440.88" fill="#A69DC7"/>
<g clip-path="url(#c23)" stroke="#424242" stroke-width="2.05" fill="none" stroke-miterlimit="10"><path d="M1411.23,35.60L1446.46,0.35M1411.23,52.32L1446.46,17.06M1411.23,69.03L1446.46,33.77M1411.23,85.74L1446.46,50.48M1411.23,102.45L1446.46,67.20M1411.23,119.16L1446.46,83.91M1411.23,135.87L1446.46,100.62M1411.23,152.58L1446.46,117.33M1411.23,169.29L1446.46,134.04M1411.23,186.00L1446.46,150.75M1411.23,202.72L1446.46,167.46M1411.23,219.43L1446.46,184.17M1411.23,236.14L1446.46,200.88M1411.23,252.85L1446.46,217.60M1411.23,269.56L1446.46,234.31M1411.23,286.27L1446.46,251.02M1411.23,302.98L1446.46,267.73M1411.23,319.69L1446.46,284.44M1411.23,336.40L1446.46,301.15M1411.23,353.12L1446.46,317.86M1411.23,369.83L1446.46,334.57M1411.23,386.54L1446.46,351.28M1411.23,403.25L1446.46,368.00M1411.23,419.96L1446.46,384.71M1411.23,436.67L1446.46,401.42M1411.23,453.38L1446.46,418.13M1411.23,470.09L1446.46,434.84M1411.23,486.80L1446.46,451.55M1411.23,503.52L1446.46,468.26"/></g>
<rect x="1414.23" y="25.82" width="29.23" height="440.88" fill="none" stroke="#424242" stroke-width="2.05"/>
<rect x="1446.71" y="128.82" width="29.23" height="337.88" fill="#A69DC7"/>
<g clip-path="url(#c24)" stroke="#424242" stroke-width="2.05" fill="none" stroke-miterlimit="10"><path fill="#A69DC7" stroke-width="2.0" stroke-linejoin="miter" stroke-miterlimit="10" d="M1416.36,80.61 L1413.90,85.59 L1408.41,86.38 L1412.39,90.26 L1411.45,95.73 L1416.36,93.14 L1421.27,95.73 L1420.33,90.26 L1424.31,86.38 L1418.82,85.59 L1416.36,80.61M1441.41,80.61 L1438.96,85.59 L1433.47,86.38 L1437.44,90.26 L1436.50,95.73 L1441.41,93.14 L1446.32,95.73 L1445.39,90.26 L1449.36,86.38 L1443.87,85.59 L1441.41,80.61M1466.47,80.61 L1464.01,85.59 L1458.52,86.38 L1462.49,90.26 L1461.56,95.73 L1466.47,93.14 L1471.38,95.73 L1470.44,90.26 L1474.41,86.38 L1468.92,85.59 L1466.47,80.61M1491.52,80.61 L1489.06,85.59 L1483.57,86.38 L1487.55,90.26 L1486.61,95.73 L1491.52,93.14 L1496.43,95.73 L1495.49,90.26 L1499.47,86.38 L1493.98,85.59 L1491.52,80.61M1403.83,105.68 L1401.38,110.65 L1395.89,111.45 L1399.86,115.32 L1398.92,120.79 L1403.83,118.21 L1408.74,120.79 L1407.81,115.32 L1411.78,111.45 L1406.29,110.65 L1403.83,105.68M1428.89,105.68 L1426.43,110.65 L1420.94,111.45 L1424.91,115.32 L1423.98,120.79 L1428.89,118.21 L1433.80,120.79 L1432.86,115.32 L1436.83,111.45 L1431.34,110.65 L1428.89,105.68M1453.94,105.68 L1451.48,110.65 L1445.99,111.45 L1449.97,115.32 L1449.03,120.79 L1453.94,118.21 L1458.85,120.79 L1457.91,115.32 L1461.89,111.45 L1456.40,110.65 L1453.94,105.68M1478.99,105.68 L1476.54,110.65 L1471.05,111.45 L1475.02,115.32 L1474.08,120.79 L1478.99,118.21 L1483.90,120.79 L1482.97,115.32 L1486.94,111.45 L1481.45,110.65 L1478.99,105.68M1416.36,130.74 L1413.90,135.72 L1408.41,136.52 L1412.39,140.39 L1411.45,145.86 L1416.36,143.28 L1421.27,145.86 L1420.33,140.39 L1424.31,136.52 L1418.82,135.72 L1416.36,130.74M1441.41,130.74 L1438.96,135.72 L1433.47,136.52 L1437.44,140.39 L1436.50,145.86 L1441.41,143.28 L1446.32,145.86 L1445.39,140.39 L1449.36,136.52 L1443.87,135.72 L1441.41,130.74M1466.47,130.74 L1464.01,135.72 L1458.52,136.52 L1462.49,140.39 L1461.56,145.86 L1466.47,143.28 L1471.38,145.86 L1470.44,140.39 L1474.41,136.52 L1468.92,135.72 L1466.47,130.74M1491.52,130.74 L1489.06,135.72 L1483.57,136.52 L1487.55,140.39 L1486.61,145.86 L1491.52,143.28 L1496.43,145.86 L1495.49,140.39 L1499.47,136.52 L1493.98,135.72 L1491.52,130.74M1403.83,155.81 L1401.38,160.79 L1395.89,161.58 L1399.86,165.46 L1398.92,170.93 L1403.83,168.34 L1408.74,170.93 L1407.81,165.46 L1411.78,161.58 L1406.29,160.79 L1403.83,155.81M1428.89,155.81 L1426.43,160.79 L1420.94,161.58 L1424.91,165.46 L1423.98,170.93 L1428.89,168.34 L1433.80,170.93 L1432.86,165.46 L1436.83,161.58 L1431.34,160.79 L1428.89,155.81M1453.94,155.81 L1451.48,160.79 L1445.99,161.58 L1449.97,165.46 L1449.03,170.93 L1453.94,168.34 L1458.85,170.93 L1457.91,165.46 L1461.89,161.58 L1456.40,160.79 L1453.94,155.81M1478.99,155.81 L1476.54,160.79 L1471.05,161.58 L1475.02,165.46 L1474.08,170.93 L1478.99,168.34 L1483.90,170.93 L1482.97,165.46 L1486.94,161.58 L1481.45,160.79 L1478.99,155.81M1416.36,180.88 L1413.90,185.85 L1408.41,186.65 L1412.39,190.52 L1411.45,195.99 L1416.36,193.41 L1421.27,195.99 L1420.33,190.52 L1424.31,186.65 L1418.82,185.85 L1416.36,180.88M1441.41,180.88 L1438.96,185.85 L1433.47,186.65 L1437.44,190.52 L1436.50,195.99 L1441.41,193.41 L1446.32,195.99 L1445.39,190.52 L1449.36,186.65 L1443.87,185.85 L1441.41,180.88M1466.47,180.88 L1464.01,185.85 L1458.52,186.65 L1462.49,190.52 L1461.56,195.99 L1466.47,193.41 L1471.38,195.99 L1470.44,190.52 L1474.41,186.65 L1468.92,185.85 L1466.47,180.88M1491.52,180.88 L1489.06,185.85 L1483.57,186.65 L1487.55,190.52 L1486.61,195.99 L1491.52,193.41 L1496.43,195.99 L1495.49,190.52 L1499.47,186.65 L1493.98,185.85 L1491.52,180.88M1403.83,205.94 L1401.38,210.92 L1395.89,211.72 L1399.86,215.59 L1398.92,221.06 L1403.83,218.48 L1408.74,221.06 L1407.81,215.59 L1411.78,211.72 L1406.29,210.92 L1403.83,205.94M1428.89,205.94 L1426.43,210.92 L1420.94,211.72 L1424.91,215.59 L1423.98,221.06 L1428.89,218.48 L1433.80,221.06 L1432.86,215.59 L1436.83,211.72 L1431.34,210.92 L1428.89,205.94M1453.94,205.94 L1451.48,210.92 L1445.99,211.72 L1449.97,215.59 L1449.03,221.06 L1453.94,218.48 L1458.85,221.06 L1457.91,215.59 L1461.89,211.72 L1456.40,210.92 L1453.94,205.94M1478.99,205.94 L1476.54,210.92 L1471.05,211.72 L1475.02,215.59 L1474.08,221.06 L1478.99,218.48 L1483.90,221.06 L1482.97,215.59 L1486.94,211.72 L1481.45,210.92 L1478.99,205.94M1416.36,231.01 L1413.90,235.99 L1408.41,236.78 L1412.39,240.66 L1411.45,246.13 L1416.36,243.54 L1421.27,246.13 L1420.33,240.66 L1424.31,236.78 L1418.82,235.99 L1416.36,231.01M1441.41,231.01 L1438.96,235.99 L1433.47,236.78 L1437.44,240.66 L1436.50,246.13 L1441.41,243.54 L1446.32,246.13 L1445.39,240.66 L1449.36,236.78 L1443.87,235.99 L1441.41,231.01M1466.47,231.01 L1464.01,235.99 L1458.52,236.78 L1462.49,240.66 L1461.56,246.13 L1466.47,243.54 L1471.38,246.13 L1470.44,240.66 L1474.41,236.78 L1468.92,235.99 L1466.47,231.01M1491.52,231.01 L1489.06,235.99 L1483.57,236.78 L1487.55,240.66 L1486.61,246.13 L1491.52,243.54 L1496.43,246.13 L1495.49,240.66 L1499.47,236.78 L1493.98,235.99 L1491.52,231.01M1403.83,256.08 L1401.38,261.05 L1395.89,261.85 L1399.86,265.72 L1398.92,271.19 L1403.83,268.61 L1408.74,271.19 L1407.81,265.72 L1411.78,261.85 L1406.29,261.05 L1403.83,256.08M1428.89,256.08 L1426.43,261.05 L1420.94,261.85 L1424.91,265.72 L1423.98,271.19 L1428.89,268.61 L1433.80,271.19 L1432.86,265.72 L1436.83,261.85 L1431.34,261.05 L1428.89,256.08M1453.94,256.08 L1451.48,261.05 L1445.99,261.85 L1449.97,265.72 L1449.03,271.19 L1453.94,268.61 L1458.85,271.19 L1457.91,265.72 L1461.89,261.85 L1456.40,261.05 L1453.94,256.08M1478.99,256.08 L1476.54,261.05 L1471.05,261.85 L1475.02,265.72 L1474.08,271.19 L1478.99,268.61 L1483.90,271.19 L1482.97,265.72 L1486.94,261.85 L1481.45,261.05 L1478.99,256.08M1416.36,281.14 L1413.90,286.12 L1408.41,286.92 L1412.39,290.79 L1411.45,296.26 L1416.36,293.68 L1421.27,296.26 L1420.33,290.79 L1424.31,286.92 L1418.82,286.12 L1416.36,281.14M1441.41,281.14 L1438.96,286.12 L1433.47,286.92 L1437.44,290.79 L1436.50,296.26 L1441.41,293.68 L1446.32,296.26 L1445.39,290.79 L1449.36,286.92 L1443.87,286.12 L1441.41,281.14M1466.47,281.14 L1464.01,286.12 L1458.52,286.92 L1462.49,290.79 L1461.56,296.26 L1466.47,293.68 L1471.38,296.26 L1470.44,290.79 L1474.41,286.92 L1468.92,286.12 L1466.47,281.14M1491.52,281.14 L1489.06,286.12 L1483.57,286.92 L1487.55,290.79 L1486.61,296.26 L1491.52,293.68 L1496.43,296.26 L1495.49,290.79 L1499.47,286.92 L1493.98,286.12 L1491.52,281.14M1403.83,306.21 L1401.38,311.19 L1395.89,311.98 L1399.86,315.86 L1398.92,321.33 L1403.83,318.74 L1408.74,321.33 L1407.81,315.86 L1411.78,311.98 L1406.29,311.19 L1403.83,306.21M1428.89,306.21 L1426.43,311.19 L1420.94,311.98 L1424.91,315.86 L1423.98,321.33 L1428.89,318.74 L1433.80,321.33 L1432.86,315.86 L1436.83,311.98 L1431.34,311.19 L1428.89,306.21M1453.94,306.21 L1451.48,311.19 L1445.99,311.98 L1449.97,315.86 L1449.03,321.33 L1453.94,318.74 L1458.85,321.33 L1457.91,315.86 L1461.89,311.98 L1456.40,311.19 L1453.94,306.21M1478.99,306.21 L1476.54,311.19 L1471.05,311.98 L1475.02,315.86 L1474.08,321.33 L1478.99,318.74 L1483.90,321.33 L1482.97,315.86 L1486.94,311.98 L1481.45,311.19 L1478.99,306.21M1416.36,331.28 L1413.90,336.25 L1408.41,337.05 L1412.39,340.92 L1411.45,346.39 L1416.36,343.81 L1421.27,346.39 L1420.33,340.92 L1424.31,337.05 L1418.82,336.25 L1416.36,331.28M1441.41,331.28 L1438.96,336.25 L1433.47,337.05 L1437.44,340.92 L1436.50,346.39 L1441.41,343.81 L1446.32,346.39 L1445.39,340.92 L1449.36,337.05 L1443.87,336.25 L1441.41,331.28M1466.47,331.28 L1464.01,336.25 L1458.52,337.05 L1462.49,340.92 L1461.56,346.39 L1466.47,343.81 L1471.38,346.39 L1470.44,340.92 L1474.41,337.05 L1468.92,336.25 L1466.47,331.28M1491.52,331.28 L1489.06,336.25 L1483.57,337.05 L1487.55,340.92 L1486.61,346.39 L1491.52,343.81 L1496.43,346.39 L1495.49,340.92 L1499.47,337.05 L1493.98,336.25 L1491.52,331.28M1403.83,356.34 L1401.38,361.32 L1395.89,362.12 L1399.86,365.99 L1398.92,371.46 L1403.83,368.88 L1408.74,371.46 L1407.81,365.99 L1411.78,362.12 L1406.29,361.32 L1403.83,356.34M1428.89,356.34 L1426.43,361.32 L1420.94,362.12 L1424.91,365.99 L1423.98,371.46 L1428.89,368.88 L1433.80,371.46 L1432.86,365.99 L1436.83,362.12 L1431.34,361.32 L1428.89,356.34M1453.94,356.34 L1451.48,361.32 L1445.99,362.12 L1449.97,365.99 L1449.03,371.46 L1453.94,368.88 L1458.85,371.46 L1457.91,365.99 L1461.89,362.12 L1456.40,361.32 L1453.94,356.34M1478.99,356.34 L1476.54,361.32 L1471.05,362.12 L1475.02,365.99 L1474.08,371.46 L1478.99,368.88 L1483.90,371.46 L1482.97,365.99 L1486.94,362.12 L1481.45,361.32 L1478.99,356.34M1416.36,381.41 L1413.90,386.39 L1408.41,387.18 L1412.39,391.06 L1411.45,396.53 L1416.36,393.94 L1421.27,396.53 L1420.33,391.06 L1424.31,387.18 L1418.82,386.39 L1416.36,381.41M1441.41,381.41 L1438.96,386.39 L1433.47,387.18 L1437.44,391.06 L1436.50,396.53 L1441.41,393.94 L1446.32,396.53 L1445.39,391.06 L1449.36,387.18 L1443.87,386.39 L1441.41,381.41M1466.47,381.41 L1464.01,386.39 L1458.52,387.18 L1462.49,391.06 L1461.56,396.53 L1466.47,393.94 L1471.38,396.53 L1470.44,391.06 L1474.41,387.18 L1468.92,386.39 L1466.47,381.41M1491.52,381.41 L1489.06,386.39 L1483.57,387.18 L1487.55,391.06 L1486.61,396.53 L1491.52,393.94 L1496.43,396.53 L1495.49,391.06 L1499.47,387.18 L1493.98,386.39 L1491.52,381.41M1403.83,406.48 L1401.38,411.45 L1395.89,412.25 L1399.86,416.12 L1398.92,421.59 L1403.83,419.01 L1408.74,421.59 L1407.81,416.12 L1411.78,412.25 L1406.29,411.45 L1403.83,406.48M1428.89,406.48 L1426.43,411.45 L1420.94,412.25 L1424.91,416.12 L1423.98,421.59 L1428.89,419.01 L1433.80,421.59 L1432.86,416.12 L1436.83,412.25 L1431.34,411.45 L1428.89,406.48M1453.94,406.48 L1451.48,411.45 L1445.99,412.25 L1449.97,416.12 L1449.03,421.59 L1453.94,419.01 L1458.85,421.59 L1457.91,416.12 L1461.89,412.25 L1456.40,411.45 L1453.94,406.48M1478.99,406.48 L1476.54,411.45 L1471.05,412.25 L1475.02,416.12 L1474.08,421.59 L1478.99,419.01 L1483.90,421.59 L1482.97,416.12 L1486.94,412.25 L1481.45,411.45 L1478.99,406.48M1416.36,431.54 L1413.90,436.52 L1408.41,437.32 L1412.39,441.19 L1411.45,446.66 L1416.36,444.08 L1421.27,446.66 L1420.33,441.19 L1424.31,437.32 L1418.82,436.52 L1416.36,431.54M1441.41,431.54 L1438.96,436.52 L1433.47,437.32 L1437.44,441.19 L1436.50,446.66 L1441.41,444.08 L1446.32,446.66 L1445.39,441.19 L1449.36,437.32 L1443.87,436.52 L1441.41,431.54M1466.47,431.54 L1464.01,436.52 L1458.52,437.32 L1462.49,441.19 L1461.56,446.66 L1466.47,444.08 L1471.38,446.66 L1470.44,441.19 L1474.41,437.32 L1468.92,436.52 L1466.47,431.54M1491.52,431.54 L1489.06,436.52 L1483.57,437.32 L1487.55,441.19 L1486.61,446.66 L1491.52,444.08 L1496.43,446.66 L1495.49,441.19 L1499.47,437.32 L1493.98,436.52 L1491.52,431.54M1403.83,456.61 L1401.38,461.59 L1395.89,462.38 L1399.86,466.26 L1398.92,471.73 L1403.83,469.14 L1408.74,471.73 L1407.81,466.26 L1411.78,462.38 L1406.29,461.59 L1403.83,456.61M1428.89,456.61 L1426.43,461.59 L1420.94,462.38 L1424.91,466.26 L1423.98,471.73 L1428.89,469.14 L1433.80,471.73 L1432.86,466.26 L1436.83,462.38 L1431.34,461.59 L1428.89,456.61M1453.94,456.61 L1451.48,461.59 L1445.99,462.38 L1449.97,466.26 L1449.03,471.73 L1453.94,469.14 L1458.85,471.73 L1457.91,466.26 L1461.89,462.38 L1456.40,461.59 L1453.94,456.61M1478.99,456.61 L1476.54,461.59 L1471.05,462.38 L1475.02,466.26 L1474.08,471.73 L1478.99,469.14 L1483.90,471.73 L1482.97,466.26 L1486.94,462.38 L1481.45,461.59 L1478.99,456.61M1416.36,481.68 L1413.90,486.65 L1408.41,487.45 L1412.39,491.32 L1411.45,496.79 L1416.36,494.21 L1421.27,496.79 L1420.33,491.32 L1424.31,487.45 L1418.82,486.65 L1416.36,481.68M1441.41,481.68 L1438.96,486.65 L1433.47,487.45 L1437.44,491.32 L1436.50,496.79 L1441.41,494.21 L1446.32,496.79 L1445.39,491.32 L1449.36,487.45 L1443.87,486.65 L1441.41,481.68M1466.47,481.68 L1464.01,486.65 L1458.52,487.45 L1462.49,491.32 L1461.56,496.79 L1466.47,494.21 L1471.38,496.79 L1470.44,491.32 L1474.41,487.45 L1468.92,486.65 L1466.47,481.68M1491.52,481.68 L1489.06,486.65 L1483.57,487.45 L1487.55,491.32 L1486.61,496.79 L1491.52,494.21 L1496.43,496.79 L1495.49,491.32 L1499.47,487.45 L1493.98,486.65 L1491.52,481.68"/></g>
<rect x="1446.71" y="128.82" width="29.23" height="337.88" fill="none" stroke="#424242" stroke-width="2.05"/>
<rect x="92.20" y="3.70" width="953.00" height="463.00" fill="none" stroke="#000" stroke-width="1.68"/>
<rect x="1172.40" y="3.70" width="318.00" height="463.00" fill="none" stroke="#000" stroke-width="1.68"/>
<text x="77.16" y="478.00" text-anchor="end">0</text>
<text x="1157.36" y="478.00" text-anchor="end">0</text>
<text x="77.16" y="407.68" text-anchor="end">10</text>
<text x="1157.36" y="410.59" text-anchor="end">10</text>
<text x="77.16" y="337.36" text-anchor="end">20</text>
<text x="1157.36" y="343.18" text-anchor="end">20</text>
<text x="77.16" y="267.04" text-anchor="end">30</text>
<text x="1157.36" y="275.77" text-anchor="end">30</text>
<text x="77.16" y="196.72" text-anchor="end">40</text>
<text x="1157.36" y="208.36" text-anchor="end">40</text>
<text x="77.16" y="126.40" text-anchor="end">50</text>
<text x="1157.36" y="140.95" text-anchor="end">50</text>
<text x="77.16" y="56.08" text-anchor="end">60</text>
<text x="1157.36" y="73.54" text-anchor="end">60</text>
<text transform="translate(179.09,482.04) rotate(-90)" text-anchor="end">White</text>
<text transform="translate(322.14,537.40) rotate(-90)" text-anchor="middle">Middle</text>
<text transform="translate(354.34,537.40) rotate(-90)" text-anchor="middle">Eastern</text>
<text transform="translate(496.89,482.04) rotate(-90)" text-anchor="end">Latinx</text>
<text transform="translate(655.79,482.04) rotate(-90)" text-anchor="end">Indian</text>
<text transform="translate(814.69,482.04) rotate(-90)" text-anchor="end">Asian</text>
<text transform="translate(973.59,482.04) rotate(-90)" text-anchor="end">Black</text>
<text transform="translate(1258.01,482.04) rotate(-90)" text-anchor="end">Female</text>
<text transform="translate(1420.43,482.04) rotate(-90)" text-anchor="end">Male</text>
<path d="M92.20,466.70h-7.3M1172.40,466.70h-7.3M92.20,396.38h-7.3M1172.40,399.29h-7.3M92.20,326.06h-7.3M1172.40,331.88h-7.3M92.20,255.74h-7.3M1172.40,264.47h-7.3M92.20,185.42h-7.3M1172.40,197.06h-7.3M92.20,115.10h-7.3M1172.40,129.65h-7.3M92.20,44.78h-7.3M1172.40,62.24h-7.3M171.27,466.70v7.3M330.17,466.70v7.3M489.07,466.70v7.3M647.97,466.70v7.3M806.87,466.70v7.3M965.77,466.70v7.3M1250.19,466.70v7.3M1412.61,466.70v7.3" stroke="#000" stroke-width="1.68" fill="none"/>
<text transform="translate(26.3,235.50) rotate(-90)" text-anchor="middle">Percentage (%)</text>
<rect x="573.1" y="18.1" width="457.30" height="180.60" rx="4.6" ry="4.6" fill="#fff" fill-opacity="0.8" stroke="#d1d1d1" stroke-width="2.1"/>
<rect x="584.6" y="31.75" width="58.8" height="20.7" fill="#fff"/>
<rect x="584.6" y="31.75" width="58.8" height="20.7" fill="none" stroke="#000" stroke-width="2.05"/>
<text x="667.25" y="52.25">LAION-5B</text>
<rect x="584.6" y="74.68" width="58.8" height="20.7" fill="#fff"/>
<g clip-path="url(#c25)" stroke="#000" stroke-width="2.05" fill="none" stroke-miterlimit="10"><path d="M582.60,82.70H645.40M582.60,95.23H645.40"/></g>
<rect x="584.6" y="74.68" width="58.8" height="20.7" fill="none" stroke="#000" stroke-width="2.05"/>
<text x="667.25" y="95.18">LAION-5B (person label)</text>
<rect x="584.6" y="117.61" width="58.8" height="20.7" fill="#fff"/>
<g clip-path="url(#c26)" stroke="#000" stroke-width="2.05" fill="none" stroke-miterlimit="10"><path d="M581.60,113.67L646.40,48.84M581.60,130.39L646.40,65.55M581.60,147.10L646.40,82.26M581.60,163.81L646.40,98.97M581.60,180.52L646.40,115.68M581.60,197.23L646.40,132.40"/></g>
<rect x="584.6" y="117.61" width="58.8" height="20.7" fill="none" stroke="#000" stroke-width="2.05"/>
<text x="667.25" y="138.11">SDXL</text>
<rect x="584.6" y="160.54" width="58.8" height="20.7" fill="#fff"/>
<g clip-path="url(#c27)" stroke="#000" stroke-width="2.05" fill="none" stroke-miterlimit="10"><path fill="#fff" stroke-width="2.05" stroke-linejoin="miter" stroke-miterlimit="10" d="M564.55,134.92 L563.32,137.41 L560.57,137.81 L562.56,139.75 L562.09,142.48 L564.55,141.19 L567.00,142.48 L566.53,139.75 L568.52,137.81 L565.77,137.41 L564.55,134.92M577.07,134.92 L575.85,137.41 L573.10,137.81 L575.09,139.75 L574.62,142.48 L577.07,141.19 L579.53,142.48 L579.06,139.75 L581.05,137.81 L578.30,137.41 L577.07,134.92M589.60,134.92 L588.37,137.41 L585.63,137.81 L587.61,139.75 L587.14,142.48 L589.60,141.19 L592.06,142.48 L591.59,139.75 L593.57,137.81 L590.83,137.41 L589.60,134.92M602.13,134.92 L600.90,137.41 L598.15,137.81 L600.14,139.75 L599.67,142.48 L602.13,141.19 L604.58,142.48 L604.11,139.75 L606.10,137.81 L603.35,137.41 L602.13,134.92M614.65,134.92 L613.43,137.41 L610.68,137.81 L612.67,139.75 L612.20,142.48 L614.65,141.19 L617.11,142.48 L616.64,139.75 L618.63,137.81 L615.88,137.41 L614.65,134.92M627.18,134.92 L625.95,137.41 L623.21,137.81 L625.19,139.75 L624.72,142.48 L627.18,141.19 L629.64,142.48 L629.17,139.75 L631.15,137.81 L628.41,137.41 L627.18,134.92M639.71,134.92 L638.48,137.41 L635.73,137.81 L637.72,139.75 L637.25,142.48 L639.71,141.19 L642.16,142.48 L641.69,139.75 L643.68,137.81 L640.93,137.41 L639.71,134.92M652.23,134.92 L651.01,137.41 L648.26,137.81 L650.25,139.75 L649.78,142.48 L652.23,141.19 L654.69,142.48 L654.22,139.75 L656.21,137.81 L653.46,137.41 L652.23,134.92M570.81,147.46 L569.58,149.94 L566.84,150.34 L568.82,152.28 L568.35,155.01 L570.81,153.72 L573.27,155.01 L572.80,152.28 L574.78,150.34 L572.04,149.94 L570.81,147.46M583.34,147.46 L582.11,149.94 L579.36,150.34 L581.35,152.28 L580.88,155.01 L583.34,153.72 L585.79,155.01 L585.32,152.28 L587.31,150.34 L584.56,149.94 L583.34,147.46M595.86,147.46 L594.64,149.94 L591.89,150.34 L593.88,152.28 L593.41,155.01 L595.86,153.72 L598.32,155.01 L597.85,152.28 L599.84,150.34 L597.09,149.94 L595.86,147.46M608.39,147.46 L607.16,149.94 L604.42,150.34 L606.40,152.28 L605.93,155.01 L608.39,153.72 L610.85,155.01 L610.38,152.28 L612.36,150.34 L609.62,149.94 L608.39,147.46M620.92,147.46 L619.69,149.94 L616.94,150.34 L618.93,152.28 L618.46,155.01 L620.92,153.72 L623.37,155.01 L622.90,152.28 L624.89,150.34 L622.14,149.94 L620.92,147.46M633.44,147.46 L632.22,149.94 L629.47,150.34 L631.46,152.28 L630.99,155.01 L633.44,153.72 L635.90,155.01 L635.43,152.28 L637.42,150.34 L634.67,149.94 L633.44,147.46M645.97,147.46 L644.74,149.94 L642.00,150.34 L643.98,152.28 L643.51,155.01 L645.97,153.72 L648.43,155.01 L647.96,152.28 L649.94,150.34 L647.20,149.94 L645.97,147.46M564.55,159.99 L563.32,162.48 L560.57,162.88 L562.56,164.81 L562.09,167.55 L564.55,166.26 L567.00,167.55 L566.53,164.81 L568.52,162.88 L565.77,162.48 L564.55,159.99M577.07,159.99 L575.85,162.48 L573.10,162.88 L575.09,164.81 L574.62,167.55 L577.07,166.26 L579.53,167.55 L579.06,164.81 L581.05,162.88 L578.30,162.48 L577.07,159.99M589.60,159.99 L588.37,162.48 L585.63,162.88 L587.61,164.81 L587.14,167.55 L589.60,166.26 L592.06,167.55 L591.59,164.81 L593.57,162.88 L590.83,162.48 L589.60,159.99M602.13,159.99 L600.90,162.48 L598.15,162.88 L600.14,164.81 L599.67,167.55 L602.13,166.26 L604.58,167.55 L604.11,164.81 L606.10,162.88 L603.35,162.48 L602.13,159.99M614.65,159.99 L613.43,162.48 L610.68,162.88 L612.67,164.81 L612.20,167.55 L614.65,166.26 L617.11,167.55 L616.64,164.81 L618.63,162.88 L615.88,162.48 L614.65,159.99M627.18,159.99 L625.95,162.48 L623.21,162.88 L625.19,164.81 L624.72,167.55 L627.18,166.26 L629.64,167.55 L629.17,164.81 L631.15,162.88 L628.41,162.48 L627.18,159.99M639.71,159.99 L638.48,162.48 L635.73,162.88 L637.72,164.81 L637.25,167.55 L639.71,166.26 L642.16,167.55 L641.69,164.81 L643.68,162.88 L640.93,162.48 L639.71,159.99M652.23,159.99 L651.01,162.48 L648.26,162.88 L650.25,164.81 L649.78,167.55 L652.23,166.26 L654.69,167.55 L654.22,164.81 L656.21,162.88 L653.46,162.48 L652.23,159.99M570.81,172.52 L569.58,175.01 L566.84,175.41 L568.82,177.35 L568.35,180.08 L570.81,178.79 L573.27,180.08 L572.80,177.35 L574.78,175.41 L572.04,175.01 L570.81,172.52M583.34,172.52 L582.11,175.01 L579.36,175.41 L581.35,177.35 L580.88,180.08 L583.34,178.79 L585.79,180.08 L585.32,177.35 L587.31,175.41 L584.56,175.01 L583.34,172.52M595.86,172.52 L594.64,175.01 L591.89,175.41 L593.88,177.35 L593.41,180.08 L595.86,178.79 L598.32,180.08 L597.85,177.35 L599.84,175.41 L597.09,175.01 L595.86,172.52M608.39,172.52 L607.16,175.01 L604.42,175.41 L606.40,177.35 L605.93,180.08 L608.39,178.79 L610.85,180.08 L610.38,177.35 L612.36,175.41 L609.62,175.01 L608.39,172.52M620.92,172.52 L619.69,175.01 L616.94,175.41 L618.93,177.35 L618.46,180.08 L620.92,178.79 L623.37,180.08 L622.90,177.35 L624.89,175.41 L622.14,175.01 L620.92,172.52M633.44,172.52 L632.22,175.01 L629.47,175.41 L631.46,177.35 L630.99,180.08 L633.44,178.79 L635.90,180.08 L635.43,177.35 L637.42,175.41 L634.67,175.01 L633.44,172.52M645.97,172.52 L644.74,175.01 L642.00,175.41 L643.98,177.35 L643.51,180.08 L645.97,178.79 L648.43,180.08 L647.96,177.35 L649.94,175.41 L647.20,175.01 L645.97,172.52M564.55,185.06 L563.32,187.54 L560.57,187.94 L562.56,189.88 L562.09,192.61 L564.55,191.32 L567.00,192.61 L566.53,189.88 L568.52,187.94 L565.77,187.54 L564.55,185.06M577.07,185.06 L575.85,187.54 L573.10,187.94 L575.09,189.88 L574.62,192.61 L577.07,191.32 L579.53,192.61 L579.06,189.88 L581.05,187.94 L578.30,187.54 L577.07,185.06M589.60,185.06 L588.37,187.54 L585.63,187.94 L587.61,189.88 L587.14,192.61 L589.60,191.32 L592.06,192.61 L591.59,189.88 L593.57,187.94 L590.83,187.54 L589.60,185.06M602.13,185.06 L600.90,187.54 L598.15,187.94 L600.14,189.88 L599.67,192.61 L602.13,191.32 L604.58,192.61 L604.11,189.88 L606.10,187.94 L603.35,187.54 L602.13,185.06M614.65,185.06 L613.43,187.54 L610.68,187.94 L612.67,189.88 L612.20,192.61 L614.65,191.32 L617.11,192.61 L616.64,189.88 L618.63,187.94 L615.88,187.54 L614.65,185.06M627.18,185.06 L625.95,187.54 L623.21,187.94 L625.19,189.88 L624.72,192.61 L627.18,191.32 L629.64,192.61 L629.17,189.88 L631.15,187.94 L628.41,187.54 L627.18,185.06M639.71,185.06 L638.48,187.54 L635.73,187.94 L637.72,189.88 L637.25,192.61 L639.71,191.32 L642.16,192.61 L641.69,189.88 L643.68,187.94 L640.93,187.54 L639.71,185.06M652.23,185.06 L651.01,187.54 L648.26,187.94 L650.25,189.88 L649.78,192.61 L652.23,191.32 L654.69,192.61 L654.22,189.88 L656.21,187.94 L653.46,187.54 L652.23,185.06"/></g>
<rect x="584.6" y="160.54" width="58.8" height="20.7" fill="none" stroke="#000" stroke-width="2.05"/>
<text x="667.25" y="181.04">SDXL-Inc</text>
</svg>
</body></html>
